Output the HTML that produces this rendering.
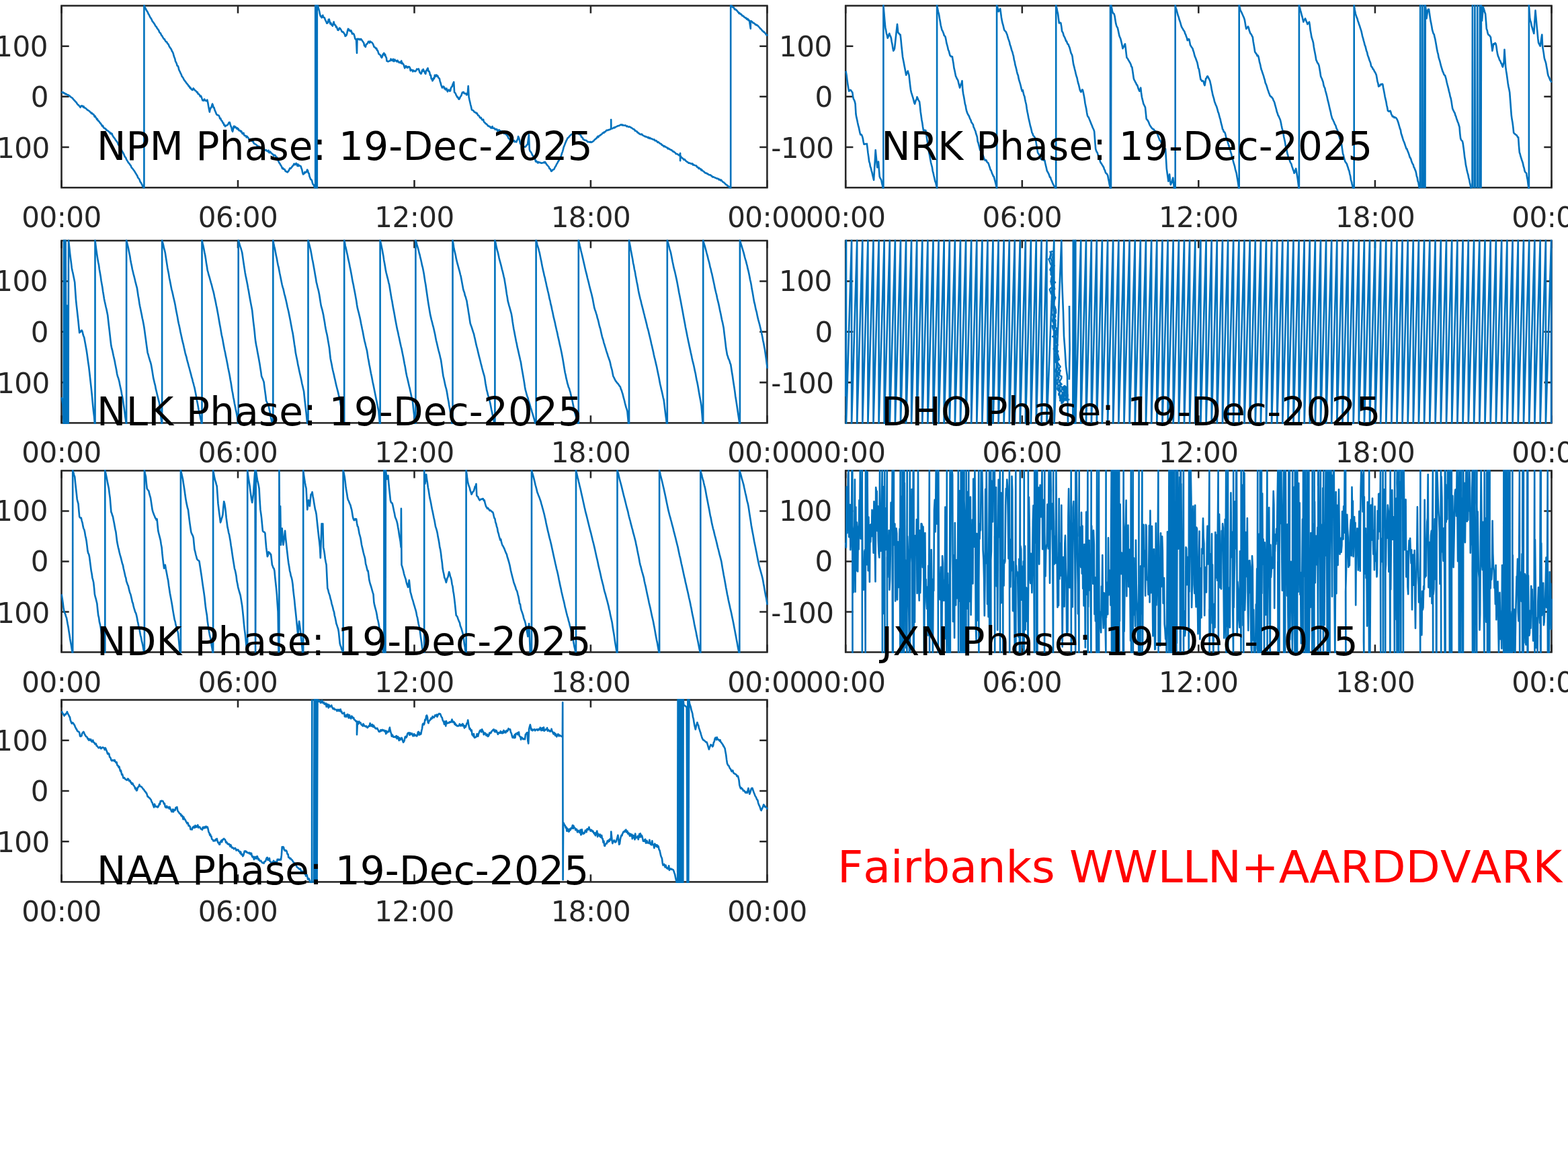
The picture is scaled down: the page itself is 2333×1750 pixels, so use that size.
<!DOCTYPE html>
<html><head><meta charset="utf-8"><title>Fairbanks WWLLN+AARDDVARK VLF Phase</title>
<style>html,body{margin:0;padding:0;background:#fff;overflow:hidden}svg{display:block}text{font-kerning:none;font-feature-settings:"kern" 0}</style>
</head><body>
<svg xmlns="http://www.w3.org/2000/svg" width="2333" height="1750" viewBox="0 0 2333 1750">
<rect width="2333" height="1750" fill="#fff"/>
<rect x="91.5" y="8.5" width="1049.9" height="270.7" fill="none" stroke="#262626" stroke-width="2.55"/><path d="M91.5 279.2v-11.2M91.5 8.5v11.2M354 279.2v-11.2M354 8.5v11.2M616.5 279.2v-11.2M616.5 8.5v11.2M878.9 279.2v-11.2M878.9 8.5v11.2M1141.4 279.2v-11.2M1141.4 8.5v11.2M91.5 219h11.2M1141.4 219h-11.2M91.5 143.8h11.2M1141.4 143.8h-11.2M91.5 68.7h11.2M1141.4 68.7h-11.2" stroke="#262626" stroke-width="2.55" fill="none"/>
<rect x="1258.2" y="8.5" width="1050.3" height="270.7" fill="none" stroke="#262626" stroke-width="2.55"/><path d="M1258.2 279.2v-11.2M1258.2 8.5v11.2M1520.8 279.2v-11.2M1520.8 8.5v11.2M1783.3 279.2v-11.2M1783.3 8.5v11.2M2045.9 279.2v-11.2M2045.9 8.5v11.2M2308.5 279.2v-11.2M2308.5 8.5v11.2M1258.2 219h11.2M2308.5 219h-11.2M1258.2 143.8h11.2M2308.5 143.8h-11.2M1258.2 68.7h11.2M2308.5 68.7h-11.2" stroke="#262626" stroke-width="2.55" fill="none"/>
<rect x="91.5" y="358.1" width="1049.9" height="271.3" fill="none" stroke="#262626" stroke-width="2.55"/><path d="M91.5 629.4v-11.2M91.5 358.1v11.2M354 629.4v-11.2M354 358.1v11.2M616.5 629.4v-11.2M616.5 358.1v11.2M878.9 629.4v-11.2M878.9 358.1v11.2M1141.4 629.4v-11.2M1141.4 358.1v11.2M91.5 569.1h11.2M1141.4 569.1h-11.2M91.5 493.8h11.2M1141.4 493.8h-11.2M91.5 418.4h11.2M1141.4 418.4h-11.2" stroke="#262626" stroke-width="2.55" fill="none"/>
<rect x="1258.2" y="358.1" width="1050.3" height="271.3" fill="none" stroke="#262626" stroke-width="2.55"/><path d="M1258.2 629.4v-11.2M1258.2 358.1v11.2M1520.8 629.4v-11.2M1520.8 358.1v11.2M1783.3 629.4v-11.2M1783.3 358.1v11.2M2045.9 629.4v-11.2M2045.9 358.1v11.2M2308.5 629.4v-11.2M2308.5 358.1v11.2M1258.2 569.1h11.2M2308.5 569.1h-11.2M1258.2 493.8h11.2M2308.5 493.8h-11.2M1258.2 418.4h11.2M2308.5 418.4h-11.2" stroke="#262626" stroke-width="2.55" fill="none"/>
<rect x="91.5" y="700.4" width="1049.9" height="270.1" fill="none" stroke="#262626" stroke-width="2.55"/><path d="M91.5 970.5v-11.2M91.5 700.4v11.2M354 970.5v-11.2M354 700.4v11.2M616.5 970.5v-11.2M616.5 700.4v11.2M878.9 970.5v-11.2M878.9 700.4v11.2M1141.4 970.5v-11.2M1141.4 700.4v11.2M91.5 910.5h11.2M1141.4 910.5h-11.2M91.5 835.5h11.2M1141.4 835.5h-11.2M91.5 760.4h11.2M1141.4 760.4h-11.2" stroke="#262626" stroke-width="2.55" fill="none"/>
<rect x="1258.2" y="700.4" width="1050.3" height="270.1" fill="none" stroke="#262626" stroke-width="2.55"/><path d="M1258.2 970.5v-11.2M1258.2 700.4v11.2M1520.8 970.5v-11.2M1520.8 700.4v11.2M1783.3 970.5v-11.2M1783.3 700.4v11.2M2045.9 970.5v-11.2M2045.9 700.4v11.2M2308.5 970.5v-11.2M2308.5 700.4v11.2M1258.2 910.5h11.2M2308.5 910.5h-11.2M1258.2 835.5h11.2M2308.5 835.5h-11.2M1258.2 760.4h11.2M2308.5 760.4h-11.2" stroke="#262626" stroke-width="2.55" fill="none"/>
<rect x="91.5" y="1041.5" width="1049.9" height="270.9" fill="none" stroke="#262626" stroke-width="2.55"/><path d="M91.5 1312.4v-11.2M91.5 1041.5v11.2M354 1312.4v-11.2M354 1041.5v11.2M616.5 1312.4v-11.2M616.5 1041.5v11.2M878.9 1312.4v-11.2M878.9 1041.5v11.2M1141.4 1312.4v-11.2M1141.4 1041.5v11.2M91.5 1252.2h11.2M1141.4 1252.2h-11.2M91.5 1177h11.2M1141.4 1177h-11.2M91.5 1101.7h11.2M1141.4 1101.7h-11.2" stroke="#262626" stroke-width="2.55" fill="none"/>
<defs>
<clipPath id="cNPM"><rect x="90" y="7" width="1052.9" height="273.7"/></clipPath>
<clipPath id="cNRK"><rect x="1256.7" y="7" width="1053.3" height="273.7"/></clipPath>
<clipPath id="cNLK"><rect x="90" y="356.6" width="1052.9" height="274.3"/></clipPath>
<clipPath id="cDHO"><rect x="1256.7" y="356.6" width="1053.3" height="274.3"/></clipPath>
<clipPath id="cNDK"><rect x="90" y="698.9" width="1052.9" height="273.1"/></clipPath>
<clipPath id="cJXN"><rect x="1256.7" y="698.9" width="1053.3" height="273.1"/></clipPath>
<clipPath id="cNAA"><rect x="90" y="1040" width="1052.9" height="273.9"/></clipPath>
</defs>
<polyline clip-path="url(#cNPM)" points="91.5,136.6 92.3,137 93.1,137.9 94,137.4 94.8,138.6 95.6,138.4 96.4,138.8 97.3,140.2 98.1,139.8 98.9,140.1 99.7,140.9 100.6,141.4 101.4,141.3 102.2,141.7 103.1,142.7 103.9,142.8 104.8,143.9 105.6,144.6 106.5,145 107.4,145.7 108.2,146.4 109.1,147.8 109.9,148.6 110.8,149.5 111.7,150.4 112.5,151.6 113.4,152 114.2,153.6 115.1,154.8 116,156 116.8,156.3 117.7,157.6 118.5,157.9 119.4,159.8 120.2,158.9 121.1,157.4 121.9,157.7 122.8,157.6 123.6,159.3 124.5,158.3 125.4,160.2 126.3,160.6 127.1,160.8 128,161.5 128.8,162.4 129.6,163.1 130.4,164 131.2,164.1 132,164.7 132.8,165.3 133.6,165.9 134.4,167 135.2,167.3 136,168.8 136.8,168.2 137.6,169.2 138.4,170 139.2,170.2 140,171.8 140.8,173.7 141.6,172.7 142.4,174.7 143.2,175.6 144,177.6 144.8,177 145.6,179.4 146.4,179.6 147.3,180.8 148.1,181.6 148.9,183.2 149.7,183.4 150.5,184.9 151.3,186.1 152.1,187.8 152.9,186.9 153.7,189 154.5,190.4 155.3,190.8 156.1,190.8 156.9,191.9 157.7,192.2 158.5,193.9 159.3,193.9 160.1,194.4 160.9,195.1 161.7,195.8 162.5,196.5 163.3,196.8 164.1,198.9 164.9,197.8 165.7,199.3 166.6,198.9 167.4,201.6 168.3,202.8 169.1,204.3 170,205.2 170.9,206.4 171.7,207.8 172.6,209.3 173.4,209.9 174.3,211.3 175.1,212.6 175.9,215.2 176.7,216.1 177.5,216.9 178.3,219.9 179.1,220.7 179.9,221.6 180.7,222.9 181.6,225 182.4,226 183.2,227.5 184,228.9 184.8,230.7 185.6,233 186.4,233.8 187.2,234.8 188,237 188.8,238.5 189.6,239.5 190.4,241 191.2,242.4 192.1,243 192.9,244.2 193.7,245.5 194.5,246.2 195.3,248.3 196.1,249.8 196.9,250.5 197.7,251.5 198.6,252.7 199.4,253.7 200.2,254.9 201,256.3 201.8,257.7 202.6,258.8 203.4,260.4 204.2,261.4 205,263.7 205.8,265 206.6,265.9 207.4,266.8 208.2,269.3 209,271.3 209.8,271.9 210.6,273.5 211.4,274.9 212.2,276.9 213,277.6 213.8,279.5 214.4,279.5 214.4,8.3 214.7,8.6 215.6,10.8 216.4,11.9 217.3,14.2 218.1,15.5 219,17.1 219.8,18.1 220.7,20.6 221.6,21.8 222.4,23.5 223.3,25.4 224.1,26.7 225,27.8 225.9,29.8 226.7,31.6 227.6,32.6 228.5,33.8 229.3,35 230.2,36.3 231.1,38.2 231.9,39.3 232.8,39.9 233.6,41.8 234.5,42.9 235.3,44 236.2,45.3 237.1,47.7 237.9,48.8 238.8,49.4 239.6,51.2 240.4,52.8 241.3,53.6 242.2,55.3 243,56.7 243.9,58.1 244.7,58 245.6,60.1 246.4,61.4 247.3,62.3 248.2,62.5 249,64.4 249.9,65.3 250.8,66.4 251.6,68.6 252.5,70.1 253.4,71.4 254.2,72.4 255.1,74 255.9,76.2 256.8,77.3 257.7,79.4 258.5,82.7 259.4,85.3 260.3,87.5 261.1,91.4 262,92.8 262.9,94.9 263.7,98 264.6,98 265.4,99.9 266.2,103.6 267.1,105.5 267.9,107.1 268.8,109.3 269.6,110.4 270.5,113.4 271.4,114.4 272.2,115.5 273.1,117.2 273.9,119 274.8,119.9 275.7,121.3 276.5,122.1 277.4,123.7 278.3,124.5 279.1,125.8 280,126.6 280.8,128.5 281.7,128.4 282.6,130.8 283.4,130.4 284.3,132.5 285.1,132.6 286,134 286.9,133.5 287.7,131.4 288.6,132.5 289.4,133.6 290.3,134.8 291.2,135.1 292,135.9 292.9,137.4 293.8,137.2 294.6,139.7 295.4,139.6 296.3,140.6 297.1,141.7 298,143.6 298.8,142.6 299.7,144.3 300.6,147.1 301.5,149.5 302.4,149 303.2,149.8 304.1,147.5 304.9,148.7 305.8,149.7 306.6,150.2 307.4,150.1 308.3,148.6 309.2,152.3 310.1,157.6 310.9,162 311.8,166.6 312.6,163 313.5,160.5 314.3,160.1 315.2,157.2 316,154.6 316.9,156.7 317.7,160.1 318.6,160.3 319.5,163.9 320.4,165.7 321.2,167.8 322.1,170.1 323,171 323.8,171.1 324.6,171.6 325.5,171.8 326.4,173.5 327.2,176.5 328.1,176 329,178.6 329.8,179.8 330.7,180.4 331.5,182.9 332.4,182.9 333.3,186.2 334.1,185.9 335,188.1 335.9,186.9 336.7,186.9 337.6,186.6 338.4,185.9 339.2,185.2 340.1,183.4 340.9,182 341.8,182.1 342.7,185.3 343.5,187.9 344.4,189.5 345.2,193.9 346.1,195.8 347,192.1 347.8,188.1 348.7,187.8 349.5,189.7 350.4,188.7 351.2,189.7 352.1,191.5 353,190.3 353.8,192.3 354.7,191.7 355.5,194.2 356.4,194.1 357.3,194.2 358.1,195.8 359,195.1 359.8,196.9 360.7,198.9 361.6,199.2 362.4,197.9 363.3,201.2 364.1,201.9 365,201.9 365.9,202.2 366.8,204.4 367.7,202.8 368.6,204.4 369.4,205 370.2,206.8 371,207.7 371.8,208.4 372.6,207 373.4,207.1 374.2,209.7 375,208.8 375.9,210.7 376.7,210.4 377.5,213.2 378.3,213.7 379.1,214.2 379.9,214.4 380.7,215.1 381.5,215.5 382.3,216.5 383.1,217.3 383.9,217.6 384.7,218.3 385.5,217.9 386.3,220.5 387.1,219.5 387.9,220.9 388.8,221.3 389.6,219.8 390.4,219.5 391.2,222.6 392,221.6 392.8,222.5 393.6,222.6 394.4,223.3 395.3,223.9 396.1,223.1 397,224.5 397.8,224.6 398.7,225.5 399.5,223.8 400.4,227.1 401.3,227.1 402.1,225.6 403,227 403.8,228.1 404.7,228.5 405.6,229.7 406.4,229.8 407.2,231.7 408.1,231.1 408.9,230.8 409.8,231.7 410.6,233.6 411.5,233.6 412.4,234.8 413.2,237.8 414.1,239.7 414.9,241 415.8,243.1 416.7,243.8 417.5,245.6 418.4,246.8 419.2,248.5 420.1,250.8 421,250 421.8,251.6 422.7,251.8 423.6,252.1 424.4,254.2 425.3,255.1 426.1,255 427,256 427.9,256.4 428.7,255.1 429.6,254.3 430.5,252 431.3,250.3 432.2,250.8 433.1,250.2 433.9,248.8 434.8,248 435.6,246.6 436.4,246.2 437.3,243.9 438.2,243.9 439,245.1 439.9,244 440.7,243 441.6,245 442.5,247 443.3,244.4 444.2,247.1 445,245.9 445.9,246.5 446.7,247.1 447.6,247.4 448.5,250.6 449.3,252.5 450.1,256.5 451,259.4 451.9,258.8 452.7,258.2 453.6,255.8 454.5,256.9 455.4,256.2 456.2,255.7 457.1,252.5 458,253.7 458.8,257.5 459.7,258.1 460.5,262.5 461.4,264.6 462.3,267 463.2,267.3 464.1,268.8 464.9,272.2 465.8,274.5 466.7,275.1 467.6,277.4 468.5,279.5 469.2,279.5 469.2,8.3 470.4,8.3 471.5,8.3 471.5,279.5 471.8,279.5 471.8,8.5 473,8.5 474.2,13.7 475.1,16.4 475.9,20.7 476.8,24 477.7,24.5 478.5,26.3 479.4,23.6 480.3,22.7 481.1,26 482,25.8 482.9,26.6 483.7,29 484.6,30.9 485.4,32.2 486.2,34.6 487.1,34.4 488,33.3 488.8,29.2 489.7,28.7 490.5,31.8 491.4,35.5 492.3,34.2 493.2,37 494,37.3 494.9,38.7 495.8,35.2 496.6,32.6 497.5,36.1 498.3,37.2 499.2,37.5 500,40.5 500.9,39.8 501.7,42.2 502.6,44.7 503.5,45 504.3,43.4 505.1,41.6 506,42.1 506.9,43.7 507.7,44.7 508.6,46.9 509.4,47.6 510.3,47.4 511.2,48.3 512,49.8 512.9,50.8 513.7,53.8 514.6,53.3 515.5,52.4 516.3,49.6 517.1,45.9 518,42.9 518.9,43.5 519.7,45.6 520.6,45.1 521.5,46.6 522.3,45.4 523.2,47.6 524,50.5 524.9,49.8 525.8,50.1 526.6,51 527.5,53.9 528.3,57.4 529.1,58.6 530,58.4 531,79 531.5,58 532.3,57.8 533.1,57.9 533.9,58.6 534.7,57.9 535.5,59.2 536.3,59.1 537.1,58 537.9,59.2 538.7,60.1 539.6,61.5 540.4,62.6 541.3,64 542.1,68 543,68.7 543.9,69.8 544.7,66.4 545.6,65.3 546.4,65.3 547.3,63.5 548.1,61.9 549,61.8 549.9,63.8 550.7,61.5 551.5,62.3 552.4,62.8 553.2,63 554.1,64.4 555,65.4 555.8,67.6 556.7,69.9 557.6,70.3 558.4,70.9 559.3,72.2 560.2,71.9 561,74.9 561.9,75.1 562.7,77.6 563.6,80.3 564.5,80.7 565.3,81.5 566.2,82.2 567,84.5 567.9,85.9 568.8,84.3 569.6,81.2 570.4,80.1 571.3,79 572.2,82.1 573,80.8 573.9,84.4 574.8,85.5 575.6,91 576.5,91 577.4,91.6 578.2,91.2 579,90.9 579.9,90.5 580.8,90.3 581.6,87.7 582.4,89.8 583.3,89.3 584.1,90.3 584.9,87.9 585.7,91.1 586.6,91.1 587.4,88.5 588.2,90 589,90.5 589.8,90.4 590.6,91.8 591.5,89.9 592.3,91.5 593.1,92.3 593.9,93.2 594.7,92.5 595.5,92.4 596.4,93.8 597.2,90.6 598,94.6 598.8,93.6 599.6,95.1 600.5,95.9 601.4,98.9 602.2,101.4 603.1,98.7 603.9,98.1 604.8,100.1 605.7,99.2 606.5,100.9 607.4,99.6 608.3,99.3 609.1,99.6 610,100.9 610.8,105.3 611.7,103.9 612.6,104 613.4,104.4 614.3,106.5 615.1,104.6 616,105.4 616.9,105.8 617.7,106.3 618.5,105.9 619.4,104.3 620.2,102.7 621.1,103.1 622,103.1 622.8,102.4 623.7,105.2 624.6,108.2 625.4,108.3 626.3,109.9 627.1,108.7 628,104.7 628.9,106 629.7,103.1 630.6,105.2 631.5,106.6 632.3,108.7 633.2,109.9 634.1,104.9 634.9,104.9 635.8,102.4 636.6,101.4 637.5,106.1 638.3,105.9 639.2,107.8 640,112 640.9,111.8 641.8,117.4 642.6,117 643.5,120.3 644.4,118.8 645.2,116.2 646,117.1 646.9,111.7 647.8,114 648.6,111.7 649.5,111.5 650.3,113.5 651.2,112.8 652.1,115.4 652.9,116.2 653.8,116.8 654.6,120.6 655.5,123.2 656.4,126.6 657.2,128.8 658,130.6 658.8,129.2 659.6,128.6 660.4,129 661.2,132 662,131.1 662.8,133.4 663.6,132.5 664.4,131.6 665.2,134.6 666,136.4 666.8,134.1 667.6,133.6 668.4,134.1 669.2,135.7 670.1,134.9 670.9,131 671.8,129.3 672.6,128.8 673.5,125.9 674.3,124.1 675.2,122 676.1,137.4 677,138 677.8,139.1 678.7,141.5 679.5,142.8 680.4,144.6 681.3,144.5 682.1,146.9 683,147.7 683.9,146.6 684.7,144.4 685.5,143.3 686.4,142.1 687.2,139.4 688.1,137.4 689,137.9 689.8,137 690.7,139.1 691.5,139 692.4,139.2 693.3,139 694.1,141.2 695,140.9 695.9,137.8 696.7,128 697.6,144.3 698.5,148.6 699.3,152 700.2,156 701,158.9 701.9,163.2 702.8,164 703.6,164 704.5,164.7 705.3,166.2 706.2,166.9 707.1,167.2 707.9,167.3 708.8,169 709.6,168.4 710.5,170.1 711.4,171.8 712.2,171.8 713.1,173.1 713.9,174.8 714.8,175.6 715.6,174.9 716.5,176.9 717.4,178.4 718.2,178.1 719.1,177.9 719.9,181 720.8,182.1 721.7,182.7 722.5,183.9 723.4,184.2 724.2,185 725.1,185.8 726,187.5 726.8,187.4 727.7,188.1 728.5,188 729.4,189 730.2,190.3 731,189.4 731.8,190.5 732.6,188.2 733.4,190.6 734.2,190.6 735,191 735.8,190.9 736.7,192.8 737.5,192.3 738.4,192.2 739.2,192.2 740.1,194.7 740.9,194 741.8,194.2 742.6,193.3 743.5,195.4 744.3,194.6 745.1,195.6 746,195.4 746.8,196 747.6,195.2 748.5,197.7 749.3,196.7 750.2,198.9 751,198.3 751.8,198.6 752.7,200 753.5,200.2 754.3,201.7 755.1,201.8 755.9,204.1 756.7,206 757.5,206.5 758.3,206.9 759.1,209.4 759.9,209.4 760.8,208.9 761.6,209.4 762.5,210.1 763.3,210.2 764.2,210.2 765,209.1 765.9,211.1 766.7,210.8 767.6,210.8 768.4,211.3 769.3,208.7 770.2,207.5 771.1,203 772,205.2 773,208.4 773.9,213.2 774.7,214.5 775.5,213.7 776.4,216.2 777.2,214.8 778,215.8 778.8,217.6 779.7,218.3 780.5,218.5 781.3,218.7 782.2,218.2 783.1,216.7 784.1,215.5 785,215 786,207.4 786.9,200.2 787.8,222.4 788.6,224.9 789.4,225.8 790.2,226.6 791,228.3 791.9,230.1 792.7,231.9 793.5,232.1 794.3,233.6 795.2,235 796.2,236.9 797.1,240.4 798.1,239.7 799,241 799.9,242.4 800.8,240.9 801.7,242.1 802.7,241.5 803.6,241.9 804.5,242.3 805.4,242.8 806.2,242.5 807,242.4 807.8,242.2 808.6,241.9 809.4,241.3 810.2,242.3 811,241 811.8,242.2 812.6,243.4 813.4,245 814.2,245.6 815,246.5 815.8,247.5 816.6,248.4 817.5,250.8 818.5,251.2 819.4,252.9 820.3,254.9 821.2,254.3 822.1,252.7 823.1,252.5 824,252.1 824.8,251.1 825.6,249 826.5,247.8 827.3,246.6 828.1,244.4 828.9,243.5 829.8,241.7 830.6,240.1 831.4,239.1 832.3,237.1 833.2,235.4 834.2,233.4 835.1,231.7 836,228.2 837,225.6 837.9,222.4 838.8,218.7 839.6,217.1 840.4,214.9 841.2,212.7 842,210.9 842.8,209 843.6,207.6 844.4,205.7 845.3,205.1 846.2,204.2 847.1,202.9 848.1,201.9 849,201.2 849.9,200.2 850.7,199.8 851.5,199.6 852.4,199.6 853.2,198.3 854,199 854.8,196.9 855.7,196.6 856.5,196.3 857.3,196.5 858.1,196.6 858.9,197.5 859.7,198.9 860.5,198.3 861.3,199.6 862.1,199.5 862.9,200.2 863.7,201.3 864.5,201.9 865.3,204.3 866.1,204.4 866.9,205.2 867.7,207.4 868.5,207.6 869.3,208.1 870.1,208.6 871,208.8 871.8,208.9 872.6,209.1 873.4,210 874.3,211.1 875.1,211.1 875.9,211.3 876.8,211.2 877.7,211.7 878.6,210.9 879.6,211.8 880.5,211.3 881.4,211.3 882.2,210.2 883,210 883.8,209.1 884.6,208 885.4,207.4 886.2,206.9 887,205.7 887.8,205.6 888.6,204.1 889.5,202.8 890.3,204.1 891.1,202.5 891.9,201.9 892.8,201.6 893.6,200.6 894.4,200.2 895.2,200 896,198.5 896.9,198.3 897.7,197.2 898.5,197.7 899.3,196.4 900.2,196.3 901,195.8 901.8,194.6 902.6,193.8 903.4,193.9 904.3,194 905.1,193.4 905.9,193 906.7,193.1 907.6,192.8 908.4,191.9 909.2,191.8 909.2,178 909.4,191.8 910.2,191.4 911,191.3 911.9,190.8 912.7,190.4 913.5,189.6 914.3,190.4 915.1,189.2 915.9,189.1 916.8,188.6 917.6,188.3 918.4,187.9 919.2,187.2 920,187.3 920.8,187.3 921.6,186.6 922.5,186.4 923.3,185.9 924.1,185.4 924.9,185.6 925.7,186.5 926.6,185.7 927.4,186.4 928.2,186.8 929,186.7 929.9,186.4 930.7,186.6 931.5,187.2 932.3,188.2 933.2,187.5 934,188.2 934.8,188.8 935.7,188.9 936.5,188.5 937.4,188.8 938.2,189.8 939,189.9 939.9,190.5 940.7,190.9 941.5,191.6 942.4,192.3 943.2,192.4 944.1,192.9 944.9,194.6 945.8,194.7 946.6,195.1 947.5,195.5 948.3,197.2 949.2,197.1 950,198.3 950.8,198.3 951.6,199.4 952.5,199.7 953.3,200.2 954.1,199.9 954.9,199.6 955.8,200.8 956.6,201.5 957.4,202 958.2,202.1 959,203 959.8,203.1 960.6,202.9 961.4,203.8 962.3,203.9 963.1,204.1 963.9,205 964.7,204.2 965.5,205.6 966.3,206 967.1,205 967.9,206.1 968.7,206.4 969.5,206.4 970.3,206.9 971.1,207.1 972,207.8 972.8,207.9 973.6,207.6 974.4,209.2 975.2,209.4 976,209.4 976.9,209.6 977.7,210.9 978.6,211.9 979.4,211.1 980.3,212.1 981.1,212.7 982,213.7 982.8,213.9 983.7,214 984.5,215.7 985.4,215.6 986.2,216.6 987.1,216.9 987.9,218.2 988.7,217.4 989.6,218 990.4,218.9 991.2,218.9 992,219.6 992.9,219.8 993.7,221.3 994.5,220.6 995.4,221.5 996.3,222 997.2,222.5 998.2,223.2 999.1,223 1000,224.3 1000.8,224.7 1001.6,225.7 1002.4,225.4 1003.2,226.4 1004,226.9 1004.8,227.3 1005.6,229 1006.4,228.8 1007.2,229.2 1008,229.3 1008.8,230.1 1009.6,230.5 1010.4,231.1 1011.2,231.7 1012.1,228 1012.1,239.1 1012.3,232 1013.1,232.8 1014,234.5 1014.8,234.8 1015.6,235.7 1016.5,236.3 1017.3,237.6 1018.1,237 1019,237.5 1019.8,238.8 1020.6,239.6 1021.5,240.3 1022.3,241 1023.1,241.1 1023.9,242 1024.7,242.7 1025.5,242.5 1026.4,242.6 1027.2,243.5 1028,243.3 1028.8,243.6 1029.6,244.2 1030.4,243.5 1031.2,245.5 1032,245.1 1032.9,245.7 1033.7,245.9 1034.5,246.3 1035.3,246.5 1036.1,246.6 1036.9,248.4 1037.8,248.6 1038.6,249.1 1039.4,250.8 1040.2,249.7 1041.1,251.1 1041.9,251.4 1042.7,251.5 1043.5,253.4 1044.3,252.7 1045.2,254 1046,254.5 1046.8,255.2 1047.6,255.4 1048.5,256.9 1049.3,257.1 1050.1,257.6 1051,257.5 1051.8,258 1052.7,259 1053.5,258.9 1054.4,259.9 1055.2,260.3 1056.1,260.4 1056.9,260.3 1057.8,261 1058.6,262.1 1059.5,262.1 1060.3,263.5 1061.2,263.2 1062,263.4 1062.9,264 1063.7,264.5 1064.6,264.6 1065.4,265 1066.3,265.6 1067.1,265.5 1068,266 1068.8,266.1 1069.7,267.4 1070.5,266.9 1071.3,267.6 1072.1,268.5 1073,267.6 1073.8,269.2 1074.6,269.6 1075.4,270.7 1076.3,271.1 1077.1,271.5 1077.9,272.5 1078.8,273.1 1079.6,274.2 1080.5,275 1081.4,275.1 1082.2,276.4 1083.1,276.5 1084,277.6 1084.9,277.8 1085.7,279.2 1086.6,279.5 1087.2,279.5 1087.2,8.3 1088.1,8.3 1088.9,10 1089.7,9.7 1090.6,11.1 1091.4,10.8 1092.2,11.9 1093,14 1093.8,13.6 1094.6,14.6 1095.5,14.5 1096.3,15.9 1097.1,16.4 1097.9,18 1098.7,18 1099.5,20 1100.4,19.3 1101.2,20.7 1102,21.3 1102.8,21.1 1103.6,22.3 1104.4,23.5 1105.2,23.6 1106.1,23.7 1106.9,25 1107.7,25.8 1108.5,26.1 1109.3,26.9 1110.1,26.5 1110.9,28.4 1111.8,28.6 1112.6,28 1113.4,30.2 1114.2,29.8 1115,30.6 1115.9,36.8 1116.8,42.6 1116.9,31.5 1117.8,31.3 1118.6,32.4 1119.5,32.5 1120.3,34.1 1121.2,34.3 1122,34.5 1122.9,35.3 1123.7,36.5 1124.6,36.3 1125.4,37.4 1126.3,37.3 1127.1,37.7 1128,38.9 1128.8,39.6 1129.6,40.5 1130.5,41.5 1131.3,42.7 1132.1,43 1132.9,43.9 1133.8,45.2 1134.6,45.9 1135.4,46.6 1136.2,47.6 1137.1,47.5 1137.9,49 1138.7,49.4 1139.5,50.8 1140.4,52.1 1141.2,52 1142,53.5" fill="none" stroke="#0072BD" stroke-width="2.62" stroke-linejoin="round" stroke-linecap="butt"/>
<polyline clip-path="url(#cNRK)" points="1258.5,105.7 1259.6,112.2 1260.6,120.3 1261.4,125.6 1262.3,131.2 1263.2,135.7 1264,134.8 1264.9,133.8 1265.7,134 1266.6,135.1 1267.5,136.6 1268.3,137.4 1269.2,144.3 1270,147.5 1270.9,148.7 1271.8,151.3 1272.6,154.6 1273.5,170.1 1274.3,174.4 1275.2,178.2 1276.1,182.8 1276.9,186.4 1277.8,189.6 1278.6,193.5 1279.5,197.6 1280.3,200.4 1281.2,200 1282.1,201 1282.9,202.7 1283.8,206 1284.6,210.8 1285.5,214.7 1286.4,214.7 1287.2,214.2 1288.1,214.2 1288.9,214.2 1289.8,213.9 1290.7,221 1291.5,227.9 1292.4,234 1293.2,240.5 1294.1,242.9 1294.9,247.8 1295.8,250 1296.7,254.1 1297.5,256.8 1298.4,261.1 1299.2,264.1 1300.1,268 1301,253.2 1301.8,240.2 1302.7,223.3 1303.5,231.9 1304.4,241 1305.3,249.1 1306.1,244 1307,240.5 1307.8,251.5 1308.7,262.8 1309.6,265 1310.4,266.2 1311.3,268 1312.1,272.2 1313,275.9 1313.8,279.8 1314.4,279.8 1314.4,7.9 1315.3,18.4 1316.3,30.5 1317.3,41.2 1318.1,44.6 1319,50.1 1319.9,52.5 1320.7,56.7 1321.6,54.8 1322.4,52.1 1323.3,49.8 1324.2,52.7 1325,54 1325.9,56.7 1326.7,62 1327.6,66.1 1328.4,71.6 1329.3,75.6 1330.2,74.2 1331,72.2 1331.9,64.5 1332.7,56.7 1333.9,45.9 1335,36.1 1336.2,48.1 1337,49.4 1337.9,50.1 1338.8,51.7 1339.6,51.5 1340.5,59.5 1341.3,68.2 1342.2,76.3 1343,84.2 1343.9,88.9 1344.8,93.5 1345.6,97.9 1346.5,102.6 1347.3,106.7 1348.2,111.7 1349.1,109.1 1349.9,107.4 1350.8,105.7 1351.6,109 1352.5,111.7 1353.4,120 1354.2,127.1 1355.1,134 1355.9,137.6 1356.8,140.4 1357.7,143.3 1358.5,145.9 1359.4,149.2 1360.2,152.7 1361.1,154.6 1361.9,151.8 1362.8,149 1363.7,148.1 1364.5,144.3 1365.4,146.2 1366.2,148.3 1367.1,150 1368,151.2 1368.8,157.4 1369.7,166.4 1370.5,171.8 1371.4,178.4 1372.3,183.1 1373.1,189 1374,194.1 1374.8,194.2 1375.7,193.6 1376.5,194.1 1377.4,194.1 1378.3,200.1 1379.1,206.2 1380,211.7 1380.8,217.1 1381.7,223.6 1382.6,228.5 1383.4,232.3 1384.3,237.5 1385.1,242 1386,245.5 1386.9,248.9 1387.7,254.3 1388.6,257.4 1389.5,261.7 1390.4,265.5 1391.3,269.8 1392.3,271.9 1393.2,276.2 1394.1,279.8 1394.1,7.9 1395.1,13.2 1396,17.6 1397,21.2 1398,27.5 1398.9,32.3 1399.7,37.5 1400.6,41 1401.5,44.7 1402.3,45.8 1403.2,47.9 1404,50 1404.9,53 1405.8,53.6 1406.6,55 1407.5,59.1 1408.3,63.9 1409.2,67 1410,70 1410.9,74.3 1411.8,75.9 1412.6,79.1 1413.5,82.5 1414.3,83.3 1415.2,84.2 1416.1,84.1 1416.9,84.2 1417.8,90.1 1418.6,94.5 1419.5,101.4 1420.4,104.9 1421.2,109 1422.1,113.4 1422.9,114.8 1423.8,117.2 1424.7,118.3 1425.5,120.3 1426.4,124.2 1427.2,127.2 1428.1,130.6 1428.9,127.8 1429.8,125.5 1430.7,123.1 1431.5,120.3 1432.4,134 1433.2,139.7 1434.1,144 1435,149.3 1435.8,154.6 1436.7,157.2 1437.5,162.4 1438.4,165.8 1439.3,168.4 1440.1,170 1441,171.5 1441.8,172.8 1442.7,175.3 1443.5,177.1 1444.4,178.7 1445.3,182 1446.1,182.8 1447,184.2 1447.8,185.2 1448.7,189.5 1449.6,190.7 1450.4,193.4 1451.3,194.9 1452.1,198.5 1453,201 1453.9,203.8 1454.7,210.5 1455.6,212.8 1456.4,216.2 1457.3,219.5 1458.2,223.3 1459,223.8 1459.9,226.7 1460.7,227.6 1461.6,230.6 1462.4,230.6 1463.3,233.1 1464.2,236.1 1465,237.1 1465.9,238.9 1466.7,238.1 1467.6,238.7 1468.5,241 1469.3,241.9 1470.2,242.2 1471,244.2 1471.9,247 1472.8,249.5 1473.6,252.5 1474.5,253.5 1475.3,255.6 1476.2,258.4 1477,259.8 1477.9,262.4 1478.8,262.8 1479.6,266.2 1480.5,269.5 1481.3,272.4 1482.2,276.3 1483.1,279.8 1483.1,7.9 1483.9,10.2 1484.8,13 1485.6,17.2 1486.5,16.2 1487.4,15.2 1488.2,12.9 1489.1,19.4 1489.9,25.7 1490.8,30.9 1491.6,34.5 1492.5,37.4 1493.4,41.3 1494.2,44.7 1495.1,45.7 1495.9,46.6 1496.8,47.5 1497.7,49.8 1498.5,51.5 1499.4,55 1500.2,57.6 1501.1,60.1 1502,62.7 1502.8,66.7 1503.7,68.8 1504.5,71.9 1505.4,75.2 1506.3,77.3 1507.1,80.5 1508,83.6 1508.8,88.9 1509.7,91.8 1510.5,96.7 1511.4,99.6 1512.3,103.3 1513.1,107.1 1514,110.4 1514.8,112.1 1515.7,117.2 1516.6,120.3 1517.4,122.9 1518.3,126 1519.1,129.3 1520,133.1 1520.9,135.7 1521.7,134 1522.6,138 1523.4,141.5 1524.3,143.3 1525.1,147.7 1526,152 1526.9,155.5 1527.7,161.4 1528.6,166.4 1529.4,170.2 1530.3,175.2 1531.2,179.1 1532,182.8 1532.9,187 1533.7,189.6 1534.6,193.3 1535.5,197.6 1536.3,198.5 1537.2,201.5 1538,202.5 1538.9,203.2 1539.8,204.9 1540.6,206.2 1541.5,211.4 1542.3,216.6 1543.2,221.5 1544,226.8 1544.9,228.3 1545.8,229.4 1546.6,231.5 1547.5,234.6 1548.3,235.7 1549.2,237.1 1550.1,237.4 1550.9,237.5 1551.8,238 1552.6,238.4 1553.5,238.1 1554.4,238.8 1555.2,242.8 1556.1,246.7 1556.9,249.9 1557.8,254.3 1558.6,255.5 1559.5,257.1 1560.4,258.8 1561.2,261.1 1562.1,263.7 1562.9,263.7 1563.8,267 1564.7,268.8 1565.5,270.8 1566.4,273.1 1567.2,274.5 1568.1,276.5 1569,277.2 1569.8,278.4 1570.7,279.8 1571.2,279.8 1571.2,7.9 1572.2,11.8 1573.1,16.3 1574.1,20.6 1575,28 1575.8,34.4 1576.7,34.1 1577.5,33.7 1578.4,34.4 1579.3,39.6 1580.1,46.4 1581,47.7 1581.8,49.6 1582.7,53.1 1583.6,54.6 1584.4,56.3 1585.3,58.4 1586.1,61 1587,61.5 1587.9,64 1588.7,65.8 1589.6,66.1 1590.4,68.7 1591.3,70.4 1592.1,73.3 1593,77 1593.9,79.8 1594.7,80.9 1595.6,84.2 1596.4,90.8 1597.3,96.2 1598.2,99.4 1599,102.8 1599.9,106.2 1600.7,109.9 1601.6,113.2 1602.5,115.7 1603.3,119.7 1604.2,123.7 1605,126 1605.9,130 1606.8,134 1607.6,135.7 1608.5,136.9 1609.3,134.7 1610.2,133.4 1611,134 1611.9,138 1612.8,142.6 1613.6,146.9 1614.5,153.5 1615.3,157.5 1616.2,161.6 1617.1,167.5 1617.9,171.8 1618.8,173.8 1619.6,174.3 1620.5,176.6 1621.4,178.7 1622.2,180.7 1623.1,183 1623.9,185.2 1624.8,187 1625.6,189.5 1626.5,191.2 1627.4,193.2 1628.2,195.8 1629.2,209.6 1630.2,221.6 1631,224 1631.9,226.2 1632.7,227.1 1633.6,230.2 1634.4,232.7 1635.3,235.8 1636.2,237.2 1637,240.5 1637.9,242.6 1638.7,243.1 1639.6,245 1640.5,246.2 1641.3,247.8 1642.2,249.1 1643,252 1643.9,253.2 1644.8,256.5 1645.6,257.7 1646.5,258.4 1647.3,259.4 1648.2,261.1 1649.1,266.1 1649.9,269.6 1650.8,274.9 1652,279.8 1652,7.9 1652.5,279.8 1653,279.8 1653.3,7.9 1654.2,12.3 1655.1,17.2 1655.9,18.9 1656.8,20.2 1657.6,20.6 1658.5,23.8 1659.4,29.5 1660.2,34.6 1661.1,37.8 1661.9,40.2 1662.8,41.2 1663.7,45.1 1664.5,48.9 1665.4,53.3 1666.2,55.4 1667.1,57.1 1667.9,60.1 1668.8,64 1669.7,68 1670.5,72.2 1671.4,70.3 1672.2,69.4 1673.1,66.9 1674,65.3 1674.8,71.3 1675.7,79.7 1676.5,85.9 1677.4,86.5 1678.3,88.2 1679.1,89.7 1680,91 1680.8,92.6 1681.7,93.9 1682.6,96.1 1683.4,99.2 1684.3,99.6 1685.1,105 1686,111 1686.8,116.8 1687.7,119.2 1688.6,120.7 1689.4,122.4 1690.3,123.7 1691.1,126.2 1692,126.5 1692.9,129.2 1693.7,131.8 1694.6,134 1695.4,135.7 1696.3,133.9 1697.2,130.6 1698,137.7 1698.9,144.3 1699.7,147.6 1700.6,151.2 1701.4,154.6 1702.3,156.2 1703.2,158.2 1704,159.8 1704.9,168.8 1705.7,176.9 1706.6,178 1707.5,179 1708.3,180.3 1709.2,182.1 1710,184.5 1710.9,186.3 1711.8,187.8 1712.6,189 1713.5,190.3 1714.3,191.2 1715.2,191.5 1716,192.8 1716.9,192.6 1717.8,194.1 1718.6,194.9 1719.5,195.4 1720.3,197.1 1721.2,197.6 1722.1,199.4 1722.9,201.8 1723.8,204.2 1724.6,206.2 1725.5,208.7 1726.4,209.1 1727.2,210.7 1728.1,213 1728.9,216.5 1729.8,218.4 1730.7,222.3 1731.5,225 1732.4,223.6 1733.2,222.7 1734.1,221.6 1734.9,235.1 1735.8,250.8 1736.7,257.5 1737.5,263.1 1738.4,269.7 1739.2,264 1740.1,259.4 1741,268.4 1741.8,274.9 1742.7,272.7 1743.5,271.8 1744.4,267.4 1745.3,264.6 1746.1,272 1747,279.8 1747.8,279.2 1748.7,279.8 1748.7,7.9 1749.5,12 1750.4,14.2 1751.3,17.7 1752.1,20.6 1753,23.8 1753.8,25.8 1754.7,29.3 1755.6,31.8 1756.4,34.2 1757.3,37.8 1758.1,40 1759,41.6 1759.9,43 1760.7,44.7 1761.6,45.8 1762.4,46.9 1763.3,50.1 1764.2,51.5 1765,54.3 1765.9,56.3 1766.7,60.1 1767.6,59.5 1768.4,58.1 1769.3,58.4 1770.2,62.7 1771,67 1771.9,68.4 1772.7,69.8 1773.6,71 1774.5,72.2 1775.3,75.3 1776.2,77.5 1777,80.9 1777.9,84.2 1778.8,86 1779.6,88.3 1780.5,90.8 1781.3,92.8 1782.2,97 1783,101.5 1783.9,102.8 1784.8,108.2 1785.6,113.6 1786.5,118.5 1787.3,118.8 1788.2,120.8 1789.1,120.4 1789.9,120.3 1790.8,121.6 1791.6,125.1 1792.5,127.1 1793.4,121.7 1794.2,116.8 1795.1,116.3 1795.9,113.9 1796.8,113.4 1797.7,115 1798.5,116.7 1799.4,118.5 1800.2,120.3 1801.1,124.2 1801.9,127.7 1802.8,133.4 1803.7,137.4 1804.5,141.5 1805.4,144.3 1806.2,147.1 1807.1,151.2 1808,153.4 1808.8,155.8 1809.7,157.5 1810.5,159.8 1811.4,162.8 1812.3,166.6 1813.1,168.1 1814,171.8 1814.8,174.9 1815.7,177.5 1816.5,181.7 1817.4,185.1 1818.3,188.4 1819.1,192.4 1820,193.3 1820.8,196.1 1821.7,196.2 1822.6,197.6 1823.4,200.4 1824.3,204.6 1825.1,206.1 1826,208 1826.9,212.1 1827.7,214.7 1828.6,217.2 1829.4,221.7 1830.3,223 1831.2,226.4 1832,228.8 1832.9,232.8 1833.7,235.2 1834.6,238.8 1835.4,241.9 1836.3,244.9 1837.2,247.9 1838,252 1838.9,255.1 1839.7,257.7 1840.6,263.3 1841.5,268.2 1842.3,273.6 1843.2,279.8 1843.7,279.8 1843.7,7.9 1844.7,11.2 1845.6,15.5 1846.6,17.2 1847.5,18.9 1848.3,20.7 1849.2,22.8 1850,24.5 1850.9,26.6 1851.8,29.2 1852.6,33.7 1853.5,39.2 1854.3,42.9 1855.2,41.8 1856.1,40.4 1856.9,39.5 1857.8,41.1 1858.6,44.8 1859.5,47.2 1860.4,49.8 1861.2,50.4 1862.1,51.7 1862.9,53.7 1863.8,55 1864.6,61.2 1865.5,66.5 1866.4,71.8 1867.2,77.3 1868.1,78.3 1868.9,79.8 1869.8,80.7 1870.7,83.2 1871.5,82.4 1872.4,84.2 1873.2,87.8 1874.1,92.7 1875,95.6 1875.8,99.6 1876.7,103.4 1877.5,105.3 1878.4,108.3 1879.3,110.9 1880.1,113.1 1881,116.8 1881.8,118.8 1882.7,123.3 1883.5,124.9 1884.4,127.1 1885.3,130.1 1886.1,132.9 1887,135.2 1887.8,138 1888.7,139.9 1889.6,142.6 1890.4,143 1891.3,144.3 1892.1,144.3 1893,145.8 1893.9,146.9 1894.7,149.3 1895.6,150.8 1896.4,152.9 1897.3,156.7 1898.1,159.3 1899,162.6 1899.9,166.6 1900.7,168.4 1901.6,171.6 1902.4,172.6 1903.3,174.8 1904.2,176.7 1905,178.7 1905.9,182.7 1906.7,187 1907.6,191.1 1908.5,194.1 1909.3,197.4 1910.2,203.5 1911,207 1911.9,211.1 1912.8,217 1913.6,219.9 1914.5,223.2 1915.3,227.9 1916.2,230.8 1917,233.6 1917.9,235.3 1918.8,238.5 1919.6,241 1920.5,242.7 1921.3,243.7 1922.2,247.4 1923.1,249.8 1923.9,252.4 1924.8,254.4 1925.6,257.7 1926.5,256.5 1927.4,253 1928.2,250.8 1929.1,255.7 1929.9,260.9 1930.8,266.3 1931.6,272.6 1932.5,279.8 1932.9,279.8 1932.9,7.9 1933.9,11.1 1934.9,15.3 1935.9,18.9 1936.8,22.5 1937.7,25.5 1938.5,29.2 1939.4,32.6 1940.2,30.1 1941.1,29.5 1942,27.5 1942.8,29.2 1943.7,31.9 1944.5,33.4 1945.4,36.1 1946.3,34.6 1947.1,33.9 1948,32.6 1948.8,37.5 1949.7,45.3 1950.5,49.4 1951.4,55 1952.3,57.8 1953.1,60.3 1954,63.6 1954.8,69.7 1955.7,74.7 1956.6,79.2 1957.4,83.4 1958.3,89.3 1959.1,90.7 1960,93.1 1960.9,94.2 1961.7,95.5 1962.6,97.9 1963.4,102.4 1964.3,107.8 1965.1,113.4 1966,115.5 1966.9,117.3 1967.7,119.8 1968.6,122 1969.4,126.8 1970.3,129.3 1971.2,130.8 1972,134.8 1972.9,137.8 1973.7,140.9 1974.6,144.5 1975.5,148.9 1976.3,151.8 1977.2,155.6 1978,159.3 1978.9,163.2 1979.8,166.6 1980.6,170.8 1981.5,174 1982.3,176.9 1983.2,177.9 1984,180.1 1984.9,181.6 1985.8,184.3 1986.6,185.7 1987.5,187.3 1988.3,190.4 1989.2,192.4 1990.1,193.8 1990.9,197.6 1991.8,200.7 1992.6,203.4 1993.5,206.5 1994.4,208.2 1995.2,211.9 1996.1,214.7 1997,221.2 1998,228.4 1998.9,231 1999.7,234.7 2000.6,237.7 2001.4,240.5 2002.3,241.6 2003.2,242.9 2004,244.1 2004.9,247.3 2005.7,249.3 2006.6,252.6 2007.4,254.2 2008.3,258.8 2009.2,262 2010,267.9 2010.9,270.4 2011.7,274.1 2012.6,277.8 2013.5,279.8 2014.7,279.8 2014.7,7.9 2015.8,15 2016.9,20.6 2017.8,23.4 2018.6,25.9 2019.5,27.7 2020.3,30.9 2021.2,33.2 2022,35.9 2022.9,38.2 2023.8,41.3 2024.6,43.6 2025.5,46.4 2026.3,50 2027.2,54.1 2028.1,57.1 2028.9,60.4 2029.8,63.4 2030.6,67 2031.5,68.9 2032.4,72.6 2033.2,75.9 2034.1,77.8 2034.9,82.1 2035.8,84.2 2036.6,86.5 2037.5,89.5 2038.4,91.7 2039.2,93.7 2040.1,98.3 2040.9,99.6 2041.8,100.2 2042.7,102.7 2043.5,103.2 2044.4,104.8 2045.2,106.7 2046.1,107.7 2047,109.7 2047.8,111.6 2048.7,116.5 2049.5,121.4 2050.4,124 2051.2,128.8 2052.1,128 2053,127.7 2053.8,125.9 2054.7,125.4 2055.5,125.8 2056.4,124.9 2057.3,125.4 2058.1,130.3 2059,134.8 2059.8,139.1 2060.7,144.1 2061.6,147.9 2062.4,151.3 2063.3,156.7 2064.1,159.9 2065,164.9 2065.8,165.3 2066.7,165.8 2067.6,165.2 2068.4,164.9 2069.3,166.7 2070.1,169.9 2071,171.4 2071.9,173.5 2072.7,173 2073.6,173.8 2074.4,175.2 2075.3,174.4 2076.2,175 2077,175.2 2077.9,176.7 2078.7,177.6 2079.6,180 2080.4,182.1 2081.3,185.4 2082.2,188.5 2083,191.4 2083.9,193.4 2084.7,198.5 2085.6,201 2086.5,204 2087.3,206.7 2088.2,209.5 2089,211 2089.9,213.5 2090.8,216.4 2091.6,218.6 2092.5,221.4 2093.3,221.4 2094.2,224.3 2095,226 2095.9,228.4 2096.8,231.1 2097.6,233.9 2098.5,235.1 2099.3,236.9 2100.2,239.9 2101.1,242.2 2101.9,244 2102.8,245.3 2103.6,248.7 2104.5,249.9 2105.4,252.6 2106.2,254.2 2107,257.1 2107.9,262.2 2108.7,264.3 2109.5,269.5 2110.4,271.4 2111.2,277 2112.1,279.8 2112.4,279.8" fill="none" stroke="#0072BD" stroke-width="2.62" stroke-linejoin="round" stroke-linecap="butt"/>
<polyline clip-path="url(#cNRK)" points="2112.8,279.8 2113.2,7.9 2113.6,279.8" fill="none" stroke="#0072BD" stroke-width="2.62" stroke-linejoin="round" stroke-linecap="butt"/>
<polyline clip-path="url(#cNRK)" points="2115.9,279.8 2116.3,7.9 2116.7,279.8" fill="none" stroke="#0072BD" stroke-width="2.62" stroke-linejoin="round" stroke-linecap="butt"/>
<polyline clip-path="url(#cNRK)" points="2119.2,279.8 2119.6,7.9 2120,279.8" fill="none" stroke="#0072BD" stroke-width="2.62" stroke-linejoin="round" stroke-linecap="butt"/>
<polyline clip-path="url(#cNRK)" points="2120.4,279.8 2120.8,7.9 2121.7,15.5 2122.5,27.5 2123.4,21.2 2124.2,15.5 2125.1,13.7 2126,13.7 2126.8,19.3 2127.7,25.4 2128.5,30.9 2129.4,34.9 2130.3,39.8 2131.1,44.7 2132,47.6 2132.8,50.1 2133.7,51.1 2134.6,55.4 2135.4,58.4 2136.3,63.4 2137.1,68 2138,73.2 2138.8,77.3 2139.7,80.3 2140.6,85.7 2141.4,88.1 2142.3,91 2143.1,94.3 2144,97.9 2144.9,100.9 2145.7,103.5 2146.6,106.5 2147.4,107.8 2148.3,110.5 2149.2,111.9 2150,112.2 2150.9,115.1 2151.7,117.9 2152.6,122.2 2153.4,125.5 2154.3,128.8 2155.2,132.4 2156,136.1 2156.9,139.2 2157.7,143.5 2158.6,146 2159.5,150.8 2160.3,156.1 2161.2,161.5 2162,163.4 2162.9,165.3 2163.8,167.1 2164.6,168.3 2165.5,171.8 2166.3,173.2 2167.2,176.8 2168,178.6 2168.9,181.5 2169.8,183.2 2170.6,186.3 2171.5,188.9 2172.3,198.8 2173.2,206.1 2174.1,208.3 2174.9,209.3 2175.8,209.8 2176.6,213 2177.5,219.4 2178.4,226.3 2179.2,233.6 2180.1,238.8 2180.9,245.3 2181.8,249.1 2182.6,253.4 2183.5,257 2184.4,260.1 2185.2,264.5 2186.1,267.6 2186.9,272 2187.8,275.7 2188.7,279.8 2189.3,279.8" fill="none" stroke="#0072BD" stroke-width="2.62" stroke-linejoin="round" stroke-linecap="butt"/>
<polyline clip-path="url(#cNRK)" points="2190.5,279.8 2190.9,7.9 2191.3,279.8" fill="none" stroke="#0072BD" stroke-width="2.62" stroke-linejoin="round" stroke-linecap="butt"/>
<polyline clip-path="url(#cNRK)" points="2194,279.8 2194.4,7.9 2194.8,279.8" fill="none" stroke="#0072BD" stroke-width="2.62" stroke-linejoin="round" stroke-linecap="butt"/>
<polyline clip-path="url(#cNRK)" points="2197.8,279.8 2198.2,7.9 2198.6,279.8" fill="none" stroke="#0072BD" stroke-width="2.62" stroke-linejoin="round" stroke-linecap="butt"/>
<polyline clip-path="url(#cNRK)" points="2201.5,279.8 2201.9,7.9 2202.3,279.8" fill="none" stroke="#0072BD" stroke-width="2.62" stroke-linejoin="round" stroke-linecap="butt"/>
<polyline clip-path="url(#cNRK)" points="2203.5,279.8 2203.9,7.9 2205,30.9 2205.8,22.4 2206.7,10.3 2207.5,12.6 2208.4,15.1 2209.3,18.7 2210.1,20.6 2211,31.8 2211.8,42.9 2212.7,45.1 2213.6,49.4 2214.4,51.5 2215.3,52.2 2216.1,52.4 2217,54.3 2217.9,55 2218.7,62.1 2219.6,68.5 2220.4,75.6 2221.3,70.8 2222.1,65.3 2223,65.8 2223.9,64.7 2224.7,64 2225.6,65.3 2226.4,69 2227.3,75.5 2228.2,80.7 2229,83.6 2229.9,85.5 2230.7,87.9 2231.6,90.2 2232.5,91.2 2233.3,94 2234.2,94.5 2235,97.9 2235.9,99.6 2236.7,96.4 2237.6,92.8 2238.5,73.9 2239.3,86.7 2240.2,99.6 2241,105.4 2241.9,111 2242.8,117.7 2243.6,123.7 2244.5,129 2245.3,132.6 2246.2,137.4 2247.1,149.2 2247.9,159.9 2248.8,171.8 2249.6,177.6 2250.5,182.6 2251.3,188.9 2252.2,197.5 2253.1,198.6 2253.9,199.1 2254.8,200.3 2255.6,200.6 2256.5,201.1 2257.4,202.5 2258.2,204.2 2259.1,204.4 2259.9,216.5 2260.8,226.7 2261.7,229.3 2262.5,232.7 2263.4,235.4 2264.2,238 2265.1,240.5 2265.9,243 2266.8,247.5 2267.7,250.2 2268.5,254.2 2269.4,256.1 2270.2,257 2271.1,257.6 2272,263.6 2272.8,267.2 2273.7,274.6 2274.5,279.8 2274.9,279.8 2274.9,7.9 2276.3,27.5 2277.1,31.3 2278,33.6 2278.8,38.4 2279.7,41.2 2280.5,44.1 2281.4,46.8 2282.3,49.8 2283.4,32.2 2284.5,15.5 2285.5,26.9 2286.6,39.5 2287.4,47.3 2288.3,57.4 2289.1,63.6 2290,65.4 2290.9,67.1 2291.7,68.7 2292.6,62.6 2293.4,56.9 2294.3,51.5 2295.1,68.7 2296,74.1 2296.9,79.6 2297.7,85.9 2298.6,89.3 2299.4,91.4 2300.3,94.5 2301.2,100.1 2302,104.1 2302.9,109.9 2303.7,112.8 2304.6,114.5 2305.5,116.8 2306.5,119.2 2307.5,120.7 2308.5,122.8" fill="none" stroke="#0072BD" stroke-width="2.62" stroke-linejoin="round" stroke-linecap="butt"/>
<polyline clip-path="url(#cNLK)" points="91.6,591.2 92.7,596.8 93.7,603.5 94.6,630 95,357.5 95.8,630 96.2,357.5 97.2,630 97.6,357.5 99,630 99.9,454.9 101.6,630 102,357.5 103.1,367.7 104.2,378 105.1,385.2 106,391.9 106.8,398.9 107.7,403.2 108.6,406.9 109.5,411.5 110.3,415.6 111.2,419.9 112.1,433.3 113,446.1 113.8,454.1 114.7,461.9 115.6,470.2 116.5,478.2 117.3,486.5 118.2,495.1 119.1,494.2 120,493.7 120.8,491.9 121.7,491.6 122.6,493.3 123.5,497.5 124.3,500 125.2,502.1 126.1,507.1 127,511.8 127.8,516.4 128.7,521.3 129.6,527.3 130.4,533.2 131.3,539.9 132.2,545.8 133.1,553.6 133.9,560.9 134.8,569.2 135.7,577.2 136.6,585.9 137.4,594.6 138.3,604.2 139.2,612.8 140.1,620.2 140.9,630 141.5,630 141.5,357.5 142.4,365.1 143.4,372.7 144.4,379.7 145.3,385.4 146.2,390.5 147.1,394.8 147.9,401 148.8,406 149.7,411.2 150.5,417.2 151.4,422.4 152.3,427.3 153.2,433.9 154,438.5 154.9,444.4 155.8,448.8 156.7,452.7 157.5,456.5 158.4,460 159.3,464.5 160.2,468.9 161,476.2 161.9,484 162.8,491.5 163.7,499.7 164.5,506.9 165.4,514.3 166.3,518.5 167.2,521.5 168,525.5 168.9,529.8 169.8,533.6 170.6,537 171.5,542.1 172.4,546.5 173.3,551.1 174.1,556.3 175,559.9 175.9,562.2 176.8,565.3 177.6,568.5 178.5,573.4 179.4,577.3 180.3,581.4 181.1,586.2 182,590.3 182.9,594.7 183.7,601 184.5,606.4 185.3,612.1 186.1,619 187,624.5 187.8,630 188.1,630 188.1,357.5 189,361.4 189.9,365.1 190.8,368.5 191.6,372.7 192.5,377.2 193.4,381.6 194.2,387 195.1,391.8 196,395.9 196.9,400.7 197.7,404 198.6,407.8 199.5,411.2 200.4,414.8 201.2,418.3 202.1,421.8 203,425.4 203.9,428.7 204.7,434 205.6,440.2 206.5,445.1 207.4,451.4 208.2,455.8 209.1,460 210,464.6 210.9,468.8 211.7,473.3 212.6,477 213.5,481.8 214.3,486.3 215.2,492.5 216.1,499.3 217,505.6 217.8,511.8 218.7,518.2 219.6,524.8 220.5,527.5 221.3,530.6 222.2,533.7 223.1,536.7 224,539.3 224.8,542.3 225.7,547.2 226.6,552.5 227.5,558.2 228.3,563.2 229.2,566.7 230.1,570.7 231,573.9 231.8,578.7 232.7,582.2 233.6,586 234.4,589.3 235.3,592.9 236.2,596.6 237.1,600 237.9,607.4 238.8,615 239.7,622.5 240.6,630 241.1,630 241.1,357.5 242,360.9 243,364.4 243.9,369 244.9,372.3 245.8,376.2 246.7,382.2 247.6,387.9 248.4,393.1 249.3,398.9 250.2,403.4 251.1,408.1 251.9,413.4 252.8,417.6 253.7,422.2 254.6,426.9 255.4,431 256.3,434.2 257.2,438.1 258,441.9 258.9,445.8 259.8,449.6 260.7,453.9 261.5,458.7 262.4,463.6 263.3,468 264.2,472.6 265,477.6 265.9,481.8 266.8,485.4 267.7,489.8 268.5,494.1 269.4,498 270.3,502.1 271.2,506.4 272,509.6 272.9,512.9 273.8,517.3 274.7,521.1 275.5,524.8 276.4,528.3 277.3,530.9 278.1,534.6 279,538.2 279.9,541.2 280.8,544.8 281.6,547.5 282.5,551 283.4,554.4 284.3,557.6 285.1,561.3 286,563.8 286.9,567.8 287.8,570.7 288.6,574 289.5,577.2 290.4,581.7 291.3,586.2 292.1,590.7 293,596 293.9,600.2 294.8,605.2 295.6,609.7 296.5,613.6 297.4,617.7 298.2,622.1 299.1,625.8 300,630 300.5,630 300.5,357.5 301.5,362.2 302.4,365.9 303.4,370.7 304.3,375.6 305.2,379.7 306.1,385.3 307,391.6 307.9,396.8 308.7,402.4 309.6,405.2 310.5,409 311.4,411.7 312.2,414.7 313.1,417.8 314,421.1 314.9,424 315.7,427.4 316.6,430.9 317.5,433.9 318.4,437.8 319.2,442 320.1,445.9 321,450.2 321.8,454.5 322.7,458.4 323.6,463.5 324.5,468.2 325.3,473 326.2,478.3 327.1,483.4 328,488.1 328.8,492.9 329.7,498.3 330.6,502.1 331.5,506.6 332.3,511.3 333.2,516.1 334.1,520.7 335,524.5 335.8,529.1 336.7,533 337.6,537.8 338.5,542.3 339.3,546.9 340.2,551.3 341.1,555.6 341.9,559.8 342.8,565.3 343.7,570 344.6,576 345.4,581.3 346.3,585.5 347.2,591.2 348.1,595.2 348.9,600.2 349.8,604.6 350.7,609.1 351.6,613.1 352.4,617.4 353.3,623.4 354.2,630 354.7,630 354.7,357.5 355.6,360.4 356.6,364.2 357.5,366.9 358.4,369.4 359.4,373 360.3,376.2 361.2,382.4 362,388.1 362.9,394.2 363.8,400.1 364.7,405.9 365.5,410.3 366.4,414.4 367.3,419.1 368.2,423.4 369,428.4 369.9,432.8 370.8,438.2 371.7,443.2 372.5,447.7 373.4,452.4 374.3,457.1 375.2,461.9 376,469.5 376.9,478.1 377.8,485.4 378.7,493.1 379.5,501.8 380.4,509.1 381.3,514 382.2,518.2 383,523.1 383.9,527.8 384.8,532.6 385.6,537 386.5,542.1 387.4,548.1 388.3,553.6 389.1,559.8 390,562 390.9,563.9 391.8,566.4 392.6,568.5 393.5,576.1 394.4,582.6 395.3,589.2 396.1,596.5 397,598.2 397.9,600.1 398.8,601.2 399.6,603.5 400.5,608.2 401.4,612.4 402.3,617 403.1,621.5 404,625.7 404.9,630 406.3,630 406.3,357.5 407.2,362.5 408.1,366.8 409.1,370.9 410,375.8 410.9,380.4 411.9,385 412.7,389.6 413.6,394.3 414.5,397.6 415.4,402.4 416.2,406.8 417.1,411 418,415.6 418.9,419.9 419.7,423.7 420.6,427.4 421.5,429.9 422.4,434 423.2,437.8 424.1,440.7 425,444.6 425.8,447.9 426.7,452.1 427.6,456.5 428.5,460.3 429.3,463.5 430.2,468 431.1,472.4 432,477 432.8,481.6 433.7,486.2 434.6,491.4 435.5,495.3 436.3,500.3 437.2,506.5 438.1,512.9 439,518.1 439.8,524.8 440.7,529.2 441.6,533.5 442.5,537.7 443.3,542.9 444.2,546.4 445.1,551 446,555.2 446.8,558.6 447.7,562.5 448.6,566.8 449.4,571 450.3,574.6 451.2,578.7 452.1,582.5 452.9,590.3 453.8,598.7 454.7,606.3 455.6,614.2 456.4,622.3 457.3,630 458.5,630 458.5,357.5 459.4,361 460.3,364.3 461.1,367.5 462,371 462.9,375.7 463.7,380.2 464.6,385.4 465.5,389.6 466.4,394.5 467.2,398.9 468.1,404 469,409.6 469.9,414.2 470.7,419.9 471.6,423.2 472.5,427.3 473.4,430.5 474.2,433.9 475.1,438.5 476,444.2 476.8,449.6 477.7,454.9 478.6,458.1 479.5,461.4 480.3,464.9 481.2,468.9 482.1,474.6 483,479.2 483.8,484.8 484.7,489.8 485.6,494.1 486.5,497.7 487.3,502.1 488.2,507.4 489.1,512.6 490,517.8 490.8,525.3 491.7,533.5 492.6,537.9 493.5,542.3 494.3,546.7 495.2,551 496.1,554.7 497,558.4 497.8,562.4 498.7,565.9 499.6,570.2 500.4,573.7 501.3,577.3 502.2,580.7 503.1,584.1 503.9,587.8 504.8,591.2 505.7,594.7 506.6,600.4 507.6,606.7 508.5,612.9 509.4,618.8 510.4,624.3 511.3,630 512.2,630 512.2,357.5 513,361.1 513.8,366 514.6,368.8 515.4,372.6 516.2,376.2 517.1,380 517.9,384.4 518.8,388.3 519.7,392.3 520.5,396.6 521.4,400.7 522.3,405.5 523.2,410.3 524,415.1 524.9,419.9 525.8,423.7 526.7,428.8 527.5,432.8 528.4,437.4 529.3,442.6 530.2,447.4 531,453.3 531.9,458.4 532.8,462 533.7,465.3 534.5,468.7 535.4,472.4 536.3,476.5 537.2,481.5 538,485.3 538.9,489.8 539.8,493.8 540.6,498.3 541.5,503 542.4,507.3 543.3,510.7 544.1,514.3 545,517.9 545.9,521.3 546.8,526.9 547.6,532.4 548.5,536.8 549.4,542.3 550.3,546.6 551.1,550.9 552,555.7 552.9,559.8 553.8,564.6 554.6,568.8 555.5,572.8 556.4,577.2 557.3,581.7 558.1,585.7 559,590.3 559.9,594.7 560.8,599.1 561.6,603.2 562.5,607.8 563.4,612.2 564.2,621.4 565.1,630 565.6,630 565.6,357.5 566.6,361.9 567.6,366.6 568.6,371 569.5,376.2 570.4,380.9 571.2,386.9 572.1,391.6 573,396.7 573.9,402.4 574.7,406 575.6,409.5 576.5,413.1 577.4,416.5 578.2,420.3 579.1,423.4 580,428.7 580.9,434.2 581.7,439.3 582.6,444.4 583.5,448.8 584.3,454.1 585.2,459 586.1,463.6 587,468.5 587.8,473.2 588.7,478 589.6,482.8 590.5,487.4 591.3,491.1 592.2,494.8 593.1,499.5 594,503.3 594.8,507.3 595.7,511.4 596.6,515.5 597.5,518.8 598.3,522.9 599.2,527.5 600.1,531.8 601,536.8 601.8,541.3 602.7,545.4 603.6,550.7 604.4,555.6 605.3,559.8 606.2,563.2 607.1,567.1 607.9,570.7 608.8,574.6 609.7,578.1 610.6,582.5 611.4,586.1 612.3,590.4 613.2,594.3 614.1,598.2 614.9,606.4 615.8,614.4 616.7,621.9 617.6,630 618.4,630 618.4,357.5 619.3,359.9 620.2,363.6 621.1,366.6 621.9,369.4 622.8,372.7 623.7,376.5 624.6,379.5 625.4,383.4 626.3,386.7 627.2,390.8 628,395 628.9,397.9 629.8,402.4 630.7,407.2 631.5,412.8 632.4,418.5 633.3,423.4 634.2,430 635,435.5 635.9,441.7 636.8,447.9 637.7,453.6 638.5,458.2 639.4,463.7 640.3,468.9 641.2,472.6 642,476.1 642.9,479.3 643.8,483.1 644.7,486.3 645.5,489.8 646.4,493.7 647.3,497.7 648.1,502.2 649,506.7 649.9,510.3 650.8,514.3 651.6,517.8 652.5,521.5 653.4,524.6 654.3,528.3 655.1,531.9 656,535.3 656.9,541.4 657.8,547.8 658.6,553.7 659.5,559.8 660.4,563.4 661.3,567.5 662.1,571.4 663,575.4 663.9,578.3 664.8,582.5 665.6,587.2 666.5,593.1 667.4,597.4 668.2,602.8 669.1,607.3 670,612.2 670.9,618 671.7,623.8 672.6,630 673.5,630 673.5,357.5 674.4,362.4 675.2,368 676.1,372.7 677,376.1 677.9,380.1 678.7,384.4 679.6,388.2 680.5,392 681.4,395 682.2,398.2 683.1,401.3 684,404.6 684.9,408.5 685.7,411.2 686.6,416.1 687.5,420.9 688.4,425.8 689.2,430.4 690.1,433.3 691,435.6 691.8,439.6 692.7,441.5 693.6,444.9 694.5,447.9 695.3,453.6 696.2,458.4 697.1,464.6 698,469.8 698.8,475.2 699.7,481.1 700.6,483.7 701.5,486.1 702.3,488.7 703.2,491.5 704.1,494.4 705,496.8 705.8,500.6 706.7,504.3 707.6,508.5 708.5,512.6 709.3,515.9 710.2,519 711.1,523 711.9,526.4 712.8,530.1 713.7,533.5 714.6,537 715.4,540.5 716.3,543.8 717.2,547.5 718.1,550.8 718.9,553.8 719.8,556.9 720.7,559.8 721.6,565.1 722.4,570.8 723.3,575.4 724.2,580.7 725.1,583.7 725.9,587.4 726.8,590.1 727.7,593.4 728.6,597 729.4,600 730.3,604.7 731.2,609.5 732,613 732.9,617.7 733.8,622.7 734.7,626 735.5,630 736.4,630 736.4,357.5 737.3,360.8 738.2,365.4 739,369.2 739.9,372.7 740.8,375.6 741.7,379.8 742.5,383.6 743.4,387.1 744.3,390.4 745.2,393.7 746,396.8 746.9,400.8 747.8,403.9 748.7,407.6 749.5,411.3 750.4,414.7 751.3,420.4 752.2,425.8 753,431 753.9,437.4 754.8,442.2 755.6,447.9 756.5,451.1 757.4,454.6 758.3,457.5 759.1,460.7 760,463.9 760.9,467.1 761.8,472.5 762.6,478.5 763.5,484.1 764.4,489.8 765.3,494.1 766.1,498.5 767,502.9 767.9,507.7 768.8,511.5 769.6,516.1 770.5,519.6 771.4,523.6 772.3,527.7 773.1,531.1 774,535.2 774.9,538.8 775.7,544 776.6,549.6 777.5,554.5 778.4,559.8 779.2,564.4 780.1,569.7 781,575.9 781.9,580.7 782.7,583.3 783.6,587 784.5,589.7 785.4,591.9 786.2,595.6 787.1,598.2 788,600.9 788.9,604.2 789.7,606.8 790.6,609.5 791.5,612.8 792.4,615.7 793.2,618.4 794.1,621.4 795,624.3 795.8,627.6 796.7,630 797.6,630 797.6,357.5 798.5,360.3 799.3,364.1 800.2,366.8 801.1,369.6 802,373.3 802.8,376.2 803.7,380.8 804.6,385.2 805.5,389.2 806.3,394.1 807.2,398.3 808.1,402.4 809,406.1 809.8,410.2 810.7,413.1 811.6,417.5 812.5,421.2 813.3,425.2 814.2,428.9 815.1,433 816,436.5 816.8,440.2 817.7,444.9 818.6,447.9 819.4,452.6 820.3,455.5 821.2,460.3 822.1,464.1 822.9,468 823.8,472.4 824.7,475.9 825.6,479.6 826.4,483.6 827.3,487.5 828.2,491.5 829.1,495.1 830,499.7 830.9,503.6 831.9,508 832.8,512.4 833.7,516.1 834.6,520.3 835.5,524.6 836.4,529.3 837.2,533.6 838.1,538.7 839,544.2 839.9,549.8 840.7,554.5 841.6,558 842.5,562.9 843.4,566.3 844.2,570.3 845.1,572.9 846,576.3 846.9,577.8 847.7,580.8 848.6,583.8 849.5,587.9 850.3,591.2 851.2,594.8 852.1,599 853,603.5 853.8,607.5 854.7,612.2 855.6,615.2 856.5,618.1 857.3,621 858.2,624.2 859.1,627.1 860,630 860.8,630 860.8,357.5 861.7,361.2 862.6,365.3 863.5,368.8 864.3,372.6 865.2,376.2 866.1,379.8 867,383.6 867.8,387.1 868.7,391.1 869.6,395 870.5,399 871.3,402.4 872.2,405.8 873.1,409.4 874,413.5 874.8,416.5 875.7,419.9 876.6,423.7 877.4,427.2 878.3,430.7 879.2,434.1 880.1,437.3 880.9,440.9 881.8,444.6 882.7,449.6 883.6,454.3 884.4,458.4 885.3,461.2 886.2,463.5 887.1,466.6 887.9,468.9 888.8,473 889.7,475.6 890.6,479.3 891.4,482.9 892.3,486.5 893.2,489.1 894.1,493.3 894.9,496.9 895.8,500.6 896.7,503.8 897.6,506.2 898.4,510.1 899.3,512.5 900.2,515.7 901,518.1 901.9,521.3 902.8,524.2 903.7,526.7 904.5,529.7 905.4,531.9 906.3,534.8 907.2,537.1 908,540.2 908.9,544.5 909.8,547.9 910.7,551 911.5,555.4 912.4,559.8 913.3,561.3 914.2,563.5 915,564.9 915.9,566.8 916.8,567.7 917.7,569.2 918.5,570.1 919.4,570.9 920.3,572.1 921.2,573.5 922,574.8 922.9,575.5 923.8,578.8 924.7,580.6 925.5,583.4 926.4,586 927.3,589.7 928.1,592.8 929,596 929.9,600 930.8,603.3 931.6,606.4 932.5,608.9 933.4,612.2 934.3,621.8 935.1,630 936,630 936,357.5 936.9,362.5 937.8,367 938.6,372 939.5,376.6 940.4,381.5 941.3,386.1 942.1,391.5 943,395 943.9,400.7 944.8,404.4 945.6,409.4 946.5,413.9 947.4,419.2 948.3,423.2 949.1,427.9 950,433 950.9,437.4 951.7,440.8 952.6,444.6 953.5,447.7 954.4,451.8 955.2,454.8 956.1,458.4 957,461.9 957.9,465.6 958.7,468.5 959.6,472.7 960.5,475.7 961.4,479.4 962.2,482.6 963.1,486.8 964,489.7 964.9,493 965.7,496.6 966.6,500.3 967.5,504 968.4,507.9 969.2,511.8 970.1,515.2 971,519.4 971.9,523.1 972.7,527.2 973.6,531.3 974.5,534.7 975.3,538.1 976.2,542.1 977.1,545.8 978,550.3 978.8,554.2 979.7,558.5 980.6,562.8 981.5,567.9 982.3,572 983.2,575.8 984.1,579.9 985,583.4 985.8,587.2 986.7,591.6 987.6,594.8 988.5,601.8 989.3,608.9 990.2,616 991.1,622.8 992,630 992.8,630 992.8,357.5 993.7,360.4 994.6,363.7 995.5,366.8 996.3,370.3 997.2,373.2 998.1,376.2 999,380.8 999.8,384.9 1000.7,389.7 1001.6,393.7 1002.4,397.9 1003.3,401.3 1004.2,404.7 1005.1,408.8 1005.9,412.4 1006.8,416.4 1007.7,421.1 1008.6,426 1009.4,430.3 1010.3,435.5 1011.2,439.7 1012.1,444.4 1012.9,448.5 1013.8,453.6 1014.7,458.2 1015.6,463 1016.4,467.5 1017.3,472.4 1018.2,477.2 1019.1,481.9 1019.9,486.7 1020.8,491 1021.7,495.5 1022.6,500.3 1023.4,504 1024.3,508.4 1025.2,512.4 1026,516.4 1026.9,520.4 1027.8,524.8 1028.7,528.6 1029.5,532.6 1030.4,536.6 1031.3,540.1 1032.2,543.8 1033,547.6 1033.9,551.9 1034.8,555.8 1035.7,560.9 1036.5,565.3 1037.4,569 1038.3,573.8 1039.2,578.9 1040,583.9 1040.9,588.9 1041.8,593.7 1042.7,598.5 1043.5,603.5 1044.6,616.5 1045.6,630 1046.2,630 1046.2,357.5 1047,360.9 1047.9,363.8 1048.8,366.6 1049.7,370.2 1050.5,372.9 1051.4,376.5 1052.3,379.7 1053.1,382.7 1054,386.7 1054.9,389.6 1055.8,393.3 1056.6,397.5 1057.5,400.2 1058.4,404.6 1059.3,407.7 1060.1,411.6 1061,415.7 1061.9,420 1062.8,424 1063.6,428.4 1064.5,432.2 1065.4,436 1066.3,439.4 1067.1,443.8 1068,447.4 1068.9,450.9 1069.8,454.9 1070.6,459 1071.5,463.4 1072.4,467.2 1073.3,472 1074.1,476.1 1075,479.6 1075.9,484 1076.7,488.1 1077.6,495.8 1078.5,503.2 1079.4,510.6 1080.2,517.8 1081.1,523 1082,528.3 1082.9,530.3 1083.7,533.4 1084.6,535 1085.5,537.2 1086.4,540.6 1087.2,542.3 1088.1,548 1089,554 1089.9,559.3 1090.7,565 1091.6,571 1092.5,576.8 1093.4,582.9 1094.2,589.5 1095.1,594.8 1096,600.7 1096.9,606.8 1097.7,612.3 1098.6,618.4 1099.5,624.2 1100.3,630 1100.9,630 1100.9,357.5 1101.8,360.5 1102.7,364 1103.7,366.8 1104.6,369.8 1105.5,372.9 1106.5,376.2 1107.3,379.3 1108.2,383 1109.1,386.2 1110,388.9 1110.8,392.4 1111.7,395.5 1112.6,399.9 1113.5,403.2 1114.3,406.9 1115.2,411.3 1116.1,416.3 1117,419.9 1117.8,424 1118.7,430.1 1119.6,434.6 1120.5,439.7 1121.3,444.6 1122.2,449.7 1123.1,452.8 1124,457.4 1124.8,461.2 1125.7,464.1 1126.6,468.7 1127.4,472.4 1128.3,476.1 1129.2,479.3 1130.1,482.6 1130.9,486 1131.8,489.8 1132.7,493.4 1133.6,497.7 1134.4,501.5 1135.3,506.8 1136.2,510.7 1137.1,515.9 1137.9,519.6 1138.9,526.8 1139.9,533.7 1140.8,541.2 1141.8,548.4" fill="none" stroke="#0072BD" stroke-width="2.62" stroke-linejoin="round" stroke-linecap="butt"/>
<polyline clip-path="url(#cDHO)" points="1258.2,590 1259,357.5 1259,630 1267.1,357.5 1267.1,630 1275.2,357.5 1275.2,630 1283.3,357.5 1283.3,630 1291.4,357.5 1291.4,630 1299.5,357.5 1299.5,630 1307.6,357.5 1307.6,630 1315.7,357.5 1315.7,630 1323.8,357.5 1323.8,630 1331.9,357.5 1331.9,630 1340,357.5 1340,630 1348.1,357.5 1348.1,630 1356.1,357.5 1356.1,630 1364.2,357.5 1364.2,630 1372.3,357.5 1372.3,630 1380.4,357.5 1380.4,630 1388.5,357.5 1388.5,630 1396.6,357.5 1396.6,630 1404.7,357.5 1404.7,630 1412.8,357.5 1412.8,630 1420.9,357.5 1420.9,630 1429,357.5 1429,630 1437.1,357.5 1437.1,630 1445.2,357.5 1445.2,630 1453.3,357.5 1453.3,630 1461.4,357.5 1461.4,630 1469.5,357.5 1469.5,630 1477.5,357.5 1477.5,630 1485.6,357.5 1485.6,630 1493.7,357.5 1493.7,630 1501.8,357.5 1501.8,630 1509.8,357.5 1509.8,630 1517.8,357.5 1517.8,630 1525.9,357.5 1525.9,630 1533.9,357.5 1533.9,630 1541.8,357.5 1541.8,630 1549.6,357.5 1549.6,630 1557.5,357.5 1557.5,630 1568.3,357.5 1568.6,630 1579.3,357.5 1580.2,420 1582,465 1583,500 1584.5,520 1586,545 1588,560 1589,630" fill="none" stroke="#0072BD" stroke-width="2.62" stroke-linejoin="round" stroke-linecap="butt"/>
<polyline clip-path="url(#cDHO)" points="1591,455 1591.6,520 1590.8,565" fill="none" stroke="#0072BD" stroke-width="2.62" stroke-linejoin="round" stroke-linecap="butt"/>
<polyline clip-path="url(#cDHO)" points="1596.3,630 1596.8,357.5 1598.6,630 1599.2,357.5 1600.3,630 1600.3,357.5 1600.3,630 1608.2,357.5 1608.2,630 1616,357.5 1616,630 1623.9,357.5 1623.9,630 1631.8,357.5 1631.8,630 1639.9,357.5 1639.9,630 1648.1,357.5 1648.1,630 1656.2,357.5 1656.2,630 1664.4,357.5 1664.4,630 1672.5,357.5 1672.5,630 1680.6,357.5 1680.6,630 1688.8,357.5 1688.8,630 1696.9,357.5 1696.9,630 1705,357.5 1705,630 1713.2,357.5 1713.2,630 1721.3,357.5 1721.3,630 1729.5,357.5 1729.5,630 1737.6,357.5 1737.6,630 1745.7,357.5 1745.7,630 1753.9,357.5 1753.9,630 1762,357.5 1762,630 1770.1,357.5 1770.1,630 1778.3,357.5 1778.3,630 1786.4,357.5 1786.4,630 1794.6,357.5 1794.6,630 1802.7,357.5 1802.7,630 1810.8,357.5 1810.8,630 1819,357.5 1819,630 1827.1,357.5 1827.1,630 1835.2,357.5 1835.2,630 1843.4,357.5 1843.4,630 1851.5,357.5 1851.5,630 1859.7,357.5 1859.7,630 1867.8,357.5 1867.8,630 1875.9,357.5 1875.9,630 1884,357.5 1884,630 1892.1,357.5 1892.1,630 1900.2,357.5 1900.2,630 1908.3,357.5 1908.3,630 1916.4,357.5 1916.4,630 1924.5,357.5 1924.5,630 1932.6,357.5 1932.6,630 1940.7,357.5 1940.7,630 1948.8,357.5 1948.8,630 1956.9,357.5 1956.9,630 1965,357.5 1965,630 1973.1,357.5 1973.1,630 1981.2,357.5 1981.2,630 1989.3,357.5 1989.3,630 1997.5,357.5 1997.5,630 2005.6,357.5 2005.6,630 2013.7,357.5 2013.7,630 2021.8,357.5 2021.8,630 2029.9,357.5 2029.9,630 2038,357.5 2038,630 2046.1,357.5 2046.1,630 2054.2,357.5 2054.2,630 2062.3,357.5 2062.3,630 2070.4,357.5 2070.4,630 2078.5,357.5 2078.5,630 2086.6,357.5 2086.6,630 2094.7,357.5 2094.7,630 2102.8,357.5 2102.8,630 2110.9,357.5 2110.9,630 2119.1,357.5 2119.1,630 2127.3,357.5 2127.3,630 2135.6,357.5 2135.6,630 2143.8,357.5 2143.8,630 2152,357.5 2152,630 2160.2,357.5 2160.2,630 2168.4,357.5 2168.4,630 2176.6,357.5 2176.6,630 2184.8,357.5 2184.8,630 2193.1,357.5 2193.1,630 2201.3,357.5 2201.3,630 2209.5,357.5 2209.5,630 2217.7,357.5 2217.7,630 2225.9,357.5 2225.9,630 2234.2,357.5 2234.2,630 2242.4,357.5 2242.4,630 2250.6,357.5 2250.6,630 2258.8,357.5 2258.8,630 2267,357.5 2267,630 2275.2,357.5 2275.2,630 2283.4,357.5 2283.4,630 2291.7,357.5 2291.7,630 2299.9,357.5 2299.9,630 2308.1,357.5 2308.1,630" fill="none" stroke="#0072BD" stroke-width="2.62" stroke-linejoin="round" stroke-linecap="butt"/>
<polyline clip-path="url(#cDHO)" points="1562.2,373.6 1563.5,377.4 1563.2,378.6 1561.8,384.7 1560.4,385.6 1562.2,390 1563,392.6 1564.8,395.8 1562.4,401.5 1565.1,405.6 1564.7,406.4 1565.6,410.6 1564.4,413.3 1563.4,419.4 1565.2,422.5 1565.9,426.1 1561.7,430.8 1561.7,430.6 1564,437.1 1565.4,439 1565.3,440.6 1568,445.2 1564.8,448.4 1566.6,452.1 1565.4,454.4 1564.9,458.4 1565.6,461.4 1565.1,466 1566.7,470 1567.1,471 1566.4,475.3 1566.8,475.5 1565.9,476.8 1568.9,485.3 1565.5,484.8 1566.4,488.4 1568.2,493 1568.2,496.5 1568.6,499.6 1566.1,500.9 1569.1,502.2 1570.4,509.4 1569.1,510.5 1568.7,514.4 1570.3,515.3 1567.7,519.2 1568.8,520.9 1569.8,523 1572.5,522.7 1570.4,526.4 1569.8,531.2 1570.1,531.8 1570.4,539.3 1571.5,538.3 1572.6,540.2 1572.2,546.4 1572.4,547.4 1569.6,552.2 1572.8,555.3 1575.4,554.6 1573.8,557.2 1574.6,561.3 1574.9,563.5 1573.2,565.5 1574,572.2 1571.6,569.5 1574.2,573.1 1573.2,578.9 1574.3,580.8 1574.5,577.6 1576.6,585.6 1577,587.6 1575.2,585.9 1577.3,588.4 1577.8,589.4 1576.8,592.2 1577.6,593 1577.2,596.3 1578.3,594.6 1578.9,595.2 1579.5,600.4 1579.1,594.7 1577.8,594.3 1578.3,591.2 1580.3,590.5 1581.1,590 1580.2,590.1 1582.4,586.2 1580.3,586.4 1583.3,583.1 1581.3,584.9 1584.5,581.1 1581.8,580.5 1582,578.9 1583.9,578.7 1584.3,574.4 1580.6,576.8 1584.1,578.5 1583.6,581.9 1585.1,581.6 1585.8,581.9 1581.9,587.9 1586,588.9 1585.4,593 1585.5,596.7" fill="none" stroke="#0072BD" stroke-width="2.4" stroke-linejoin="round" stroke-linecap="butt"/>
<polyline clip-path="url(#cDHO)" points="1565.7,373.1 1563.4,376.4 1564.6,377.8 1563.1,382.7 1563.8,385.7 1566,391.6 1565.6,393.4 1564.9,397.5 1565.5,399.1 1563.7,404.6 1563.6,408.8 1566.3,411.9 1565.6,416.4 1565,418.4 1564,421.7 1564.6,424 1567.7,431.1 1565.7,430.4 1566.5,436.8 1566.4,437.2 1567.7,445.1 1566.1,443.6 1566.7,446.7 1566.5,452.3 1565.8,456.8 1567.3,459 1568.4,462.4 1569.5,463.9 1568.9,467.6 1567.6,470 1568.3,472.7 1566.1,477.8 1568.9,479.6 1569.8,480.3 1570.1,484.1 1568.3,490.3 1570.5,492.9 1569.2,496.5 1572.1,497.7 1570.2,500.7 1571,506.1 1571.3,508.1 1569.6,509.2 1570.2,513.7 1571.2,514.7 1571.9,515.6 1569.6,519.3 1574.3,522.8 1571.7,526.5 1569.5,527.6 1572.7,532.6 1573.6,533.6 1572.5,535.8 1572,538.7 1573.2,542.1 1574.6,548.2 1574.5,549.1 1575.2,550.7 1573.3,552.7 1576.6,556.3 1571.9,558.9 1575.8,561.7 1574.5,563.8 1577.7,569.7 1577.3,571 1576.4,574.2 1577.2,577.3 1575.9,577.1 1577.2,578.2 1577.2,580.1 1578,582.5 1576.6,583.9 1575.4,587.9 1577.4,589 1576.7,590.1 1577.5,592.6 1580.1,593.5 1579.7,592.9 1580.7,598 1580.5,596.8 1581.3,598.4 1581.8,596.8 1580.8,598.1 1581.4,595.1 1581.2,593.8 1583,590.8 1583.1,589.2 1582.6,588.3 1583.3,584.9 1583.5,585.8 1584.1,581.2 1583,582.3 1582.9,581.3 1584.3,578.4 1584.9,578.5 1583.2,574.5 1585,575 1586.3,578.6 1584.3,576.2 1584.8,583.6 1587.6,583.2 1587.1,586.8 1585.9,587.4 1586.6,593.6 1587.8,594.6" fill="none" stroke="#0072BD" stroke-width="2.4" stroke-linejoin="round" stroke-linecap="butt"/>
<polyline clip-path="url(#cDHO)" points="1565.8,373.6 1567.5,374.9 1566.4,381.4 1566.2,383.2 1566.6,385.9 1565.1,391.5 1566.4,395.7 1568.6,395.3 1564.4,401.6 1565.3,408.3 1566,406.4 1567.7,410.7 1566.8,417.5 1570.1,420.2 1566,423 1568.1,426.2 1569.3,430.2 1566,430.9 1568.8,439.2 1567,437.7 1570.3,442.8 1568.5,447.8 1568.4,448.7 1565.5,453.4 1567.8,457.8 1569.4,456 1570.9,461.2 1571,466.1 1569.3,466 1570.3,471.3 1568.7,473.6 1570.6,476.8 1570,480.8 1570.3,480.3 1570.5,487.7 1572,488.1 1571.7,497.5 1571.2,494.4 1569.8,499.3 1570.5,500.6 1572.3,506.1 1572.9,508.8 1570.8,508.7 1573.8,513.3 1572.9,513.1 1571.7,519.7 1571.2,521.6 1573.9,522.5 1573.1,525.2 1574.9,531.2 1574.3,529.5 1575.9,535.2 1574.4,535.6 1573.1,538.6 1575.6,542.6 1577.8,545.6 1575.3,549.3 1577.7,551.3 1576.1,555.4 1575.6,557.4 1577.7,559.4 1579.5,559.9 1579.3,563 1578,565.3 1576,568.5 1579.6,571.7 1576.1,573.6 1579.3,575.2 1580.4,579.3 1578.5,581.9 1580.6,584 1580.9,585.2 1580,587.2 1578.4,592.5 1579.4,588.3 1580,593.9 1580.4,593.8 1581.6,595 1582.6,596.3 1582.9,595.4 1580.8,599.5 1583.3,595.8 1585.9,592.7 1582.8,593.6 1582.1,588.4 1582.9,590.8 1584,589 1583.7,585.6 1585.8,584.4 1586.2,585.4 1585.8,582.4 1587.2,580.8 1585.9,576.4 1584.3,578.2 1586.9,578.7 1585.4,575.9 1585.4,575.6 1587.5,576.3 1587.8,579.3 1586.5,581.1 1586.9,587.5 1588.5,587.4 1588.3,589.5 1586.4,595.5 1591.5,594.3" fill="none" stroke="#0072BD" stroke-width="2.4" stroke-linejoin="round" stroke-linecap="butt"/>
<polyline clip-path="url(#cNDK)" points="91.6,884.3 92.7,891.2 93.7,898.3 94.6,905.3 95.5,910.5 96.4,912.2 97.2,913.8 98.1,917.2 99,919.2 99.9,924.3 100.7,928.8 101.6,933.2 102.5,939.4 103.4,944.8 104.2,950.7 105.1,955.5 106,960.5 106.8,965.9 107.7,971.1 108.2,971.1 108.2,699.8 109.2,702.8 110.2,706.9 111.2,709.5 112.1,718.6 113,727 113.8,734.1 114.7,742.7 115.6,746.7 116.5,749.7 117.3,759.3 118.2,768.9 119.1,770.2 120,771 120.8,770.7 121.7,775.1 122.6,777.8 123.5,782.9 124.3,786.3 125.2,787.8 126.1,791.6 127,797.3 127.8,800.6 128.7,805.6 129.6,812.6 130.4,819.6 131.3,823.4 132.2,824.8 133.1,829.1 133.9,835.3 134.8,842.4 135.7,849.3 136.6,854 137.4,859.8 138.3,863 139.2,866.8 140.1,875.1 140.9,884.3 141.8,888.2 142.7,891.1 143.6,895 144.4,898.3 145.3,907.5 146.2,915.7 147.1,919.1 147.9,925.4 148.8,928.8 149.7,933.2 150.5,938.6 151.4,945.5 152.3,952.8 153.2,959.1 154,964.4 154.9,971.1 156.3,971.1 156.3,699.8 157.4,704.8 158.4,709.5 159.3,714.1 160.2,718.9 161,722.6 161.9,727 162.8,734.6 163.7,740.9 164.5,751 165.4,761.9 166.3,763.9 167.2,767.1 168,768.9 168.9,774.1 169.8,778.3 170.6,782.9 171.5,787.7 172.4,791.6 173.3,798.8 174.1,805.6 175,810.2 175.9,814.6 176.8,817.9 177.6,821.7 178.5,825.4 179.4,828.3 180.3,831.7 181.1,835.1 182,838.8 182.9,841 183.8,846.1 184.6,849.3 185.5,853.3 186.4,857.6 187.3,860 188.1,865 189,867.4 189.9,870 190.8,871.9 191.6,875.5 192.5,879.2 193.4,882.5 194.2,884 195.1,887.8 196,891.6 196.9,895.9 197.7,897.6 198.6,901.8 199.5,905.1 200.4,908 201.2,910.8 202.1,912.2 203,915.4 203.9,919.5 204.7,924.2 205.6,928 206.5,933.2 207.4,936 208.2,940.7 209.1,945.5 210,948.8 210.9,954.1 211.7,957 212.6,961.2 213.5,966.6 214.3,971.1 214.9,971.1 214.9,699.8 215.9,705.1 217,709.5 217.8,719 218.7,727 219.6,728.5 220.5,729.6 221.3,730.5 222.2,734.7 223.1,737.8 224,740.9 224.8,746.1 225.7,752.3 226.6,758.4 227.5,761.7 228.3,763.7 229.2,766.2 230.1,768.2 231,770.7 231.8,771.5 232.7,773.9 233.6,772.4 234.4,781.2 235.3,789.9 236.2,793.7 237.1,797.2 237.9,800.3 238.8,803.9 239.7,809.9 240.6,814.4 241.4,823.7 242.3,831.8 243.2,839.1 244.1,845.8 244.9,842.4 245.8,840.6 246.7,846.2 247.6,850.7 248.4,855 249.3,859.8 250.2,863.9 251.1,871.2 251.9,876.2 252.8,882.5 253.7,887.3 254.6,891.9 255.4,896.5 256.3,901.8 257.2,907.7 258,912.4 258.9,917.5 259.8,922.4 260.7,925.1 261.5,929.7 262.4,932.7 263.3,936.7 264.2,939.2 265,942 265.9,951.3 266.8,960.9 267.7,971.1 268.9,971.1 268.9,699.8 269.9,703.9 271,708.6 272,713 272.9,719.3 273.8,724.8 274.7,730.5 275.5,736.8 276.4,742.7 277.3,747.9 278.1,751.6 279,755.8 279.9,758.4 280.8,765.9 281.6,772.4 282.5,779.4 283.4,785.5 284.3,791.6 285.1,793.9 286,795.6 286.9,797.4 287.8,800.4 288.6,809.2 289.5,817.9 290.4,821.1 291.3,825.3 292.1,828 293,831.8 293.9,832.8 294.8,833.8 295.6,834.2 296.5,835.3 297.4,841.2 298.2,846.3 299.1,852.2 300,858.1 300.9,864.7 301.7,870.6 302.6,876.5 303.5,882.5 304.4,889.1 305.2,897 306.1,904.8 307,910.5 307.9,915.8 308.7,924.3 309.6,930.4 310.5,936.7 311.4,941.8 312.2,946.2 313.1,949.3 314,954.2 314.9,961 315.7,965.2 316.6,971.1 317.1,971.1 317.1,699.8 318.2,705.4 319.2,711.2 320.1,714.7 321,717.4 321.8,720.6 322.7,723.5 323.6,736.3 324.5,749.7 325.3,756.1 326.2,763.7 327.1,770.1 328,777.6 328.8,775.5 329.7,771.7 330.6,769.4 331.5,765.4 332.3,755.1 333.2,746.2 334.1,749.3 335,754.9 335.8,761.5 336.7,770.7 337.6,777.5 338.5,784.6 339.3,787.8 340.2,792.8 341.1,795.6 341.9,800.4 342.8,805.3 343.7,812 344.6,817.2 345.4,823.1 346.3,829.3 347.2,835 348.1,840.4 348.9,845.8 349.8,848.6 350.7,852.8 351.6,857.6 352.4,864.8 353.3,868.5 354.2,873.8 355.1,877.1 355.9,880 356.8,883 357.7,886 358.6,891.2 359.4,896.2 360.3,901.8 361.2,910.2 362,918.1 362.9,928 363.8,936.6 364.7,943.1 365.5,950.7 366.4,960.2 367.3,971.1 368.2,971.1 368.2,699.8 369,706.3 369.9,712.6 370.8,718.2 371.7,723.8 372.5,730.8 373.4,737.4 374.3,743.7 375.2,747.9 376,742.2 376.9,735.7 377.8,722.9 378.7,709.5 379.5,699.8 380.1,971.1 380.8,699.8 382.2,709.5 383,714.5 383.9,718.2 384.8,722.5 385.6,727 386.5,743.7 387.4,758.4 388.3,764.5 389.1,770.7 390,780.3 390.9,789.9 391.8,791.2 392.6,791.7 393.5,791.8 394.4,793.4 395.3,805.1 396.1,814.4 397,821.4 397.9,828.3 398.8,826 399.6,821.3 400.5,822.6 401.4,822.6 402.3,825 403.1,824.8 404,832.7 404.9,840.6 405.7,842.3 406.6,845 407.5,845.9 408.4,849.3 409.2,858.4 410.1,866.8 411,875.2 411.9,884.3 412.7,897.3 413.6,910.5 414.5,971.1 415.4,971.1 415.4,699.8 416.2,796.9 417.1,753.2 418,810.9 418.9,798.1 419.7,786.4 420.6,799.3 421.5,810.9 422.4,804.2 423.2,797.8 424.1,789.9 425,800.1 425.8,807.4 426.7,815.8 427.6,823.8 428.5,831.8 429.3,838 430.2,842.9 431.1,849.3 432,852.4 432.8,857 433.7,859.2 434.6,863.3 435.5,869.2 436.3,878 437.2,885.9 438.1,893 439,903 439.8,910 440.7,918.6 441.6,928 442.5,936.9 443.3,945.5 444.2,934.9 445.1,924.5 446,930.9 446.8,936.7 447.7,945 448.6,954.2 449.4,962.1 450.3,971.1 451.2,971.1 451.2,699.8 452.1,706.8 452.9,712.4 453.8,718.2 454.7,723.1 455.6,727 456.4,742.4 457.3,758.4 458.2,750.3 459.1,744.4 459.9,748.9 460.8,753.2 461.7,744.5 462.6,735.7 463.6,734.9 464.6,732.2 465.5,738.3 466.4,742.7 467.2,747.9 468.1,753.2 469,758.4 469.9,761.2 470.7,765.4 471.6,774.2 472.5,782.9 473.4,791 474.2,798.4 475.1,805.7 476,814.4 476.8,830.1 478.6,779.4 479.5,780.5 480.3,779.4 481.2,814.4 482.1,818.9 483,824.8 483.8,831.5 484.7,836.4 485.6,840.6 486.5,859.4 487.3,875.5 488.2,877.8 489.1,882 490,884.3 490.8,886.7 491.7,891 492.6,893.6 493.5,898.3 494.3,900.8 495.2,904 496.1,908.3 497,910.5 497.8,915.8 498.7,919 499.6,923.4 500.4,928 501.3,930.3 502.2,933.2 503.1,935.8 503.9,940.2 504.8,948.8 505.7,957.7 506.6,960.9 507.4,962.5 508.3,966.1 509.2,967.6 510.1,971.1 510.6,971.1 510.6,699.8 511.6,703.9 512.7,709.5 513.6,716.1 514.4,723.5 515.3,730.1 516.2,734.8 517.1,740.9 517.9,744 518.8,745.4 519.7,747.9 520.5,749.7 521.4,751.6 522.3,755.5 523.2,758.4 524,763 524.9,768.9 525.8,772.3 526.7,774.2 527.5,774.1 528.4,772 529.3,773.6 530.2,772.4 531,778.2 531.9,782.9 532.8,784.1 533.7,789.1 534.5,793.6 535.4,796.9 536.3,800 537.2,805.1 538,810.5 538.9,814.4 539.8,818.1 540.6,821.8 541.5,825.4 542.4,828.3 543.3,832.1 544.1,839.1 545,841.9 545.9,845.8 546.8,849.4 547.6,849.3 548.5,856.2 549.4,863.3 550.3,866.9 551.1,869.8 552,872.4 552.9,875.5 553.8,878.8 554.6,881.6 555.5,884.3 556.4,896.5 557.3,900.7 558.1,903.8 559,907.1 559.9,910.5 560.8,915.3 561.6,920.5 562.5,923.7 563.4,928 564.2,932.9 565.1,936.9 566,939.6 566.9,945.5 567.7,951.2 568.6,957.6 569.5,963.6 570.4,971.1 571.4,971.1 571.4,699.8 572.5,971.1 573.5,971.1 573.9,699.8 574.7,706 575.6,713 576.5,709 577.4,707.7 578.2,717.6 579.1,727 580,735.3 580.9,744.4 581.7,747.2 582.6,748.3 583.5,748.7 584.3,751.4 585.2,755.7 586.1,760.3 587,764.1 587.8,768.9 588.7,771.3 589.6,773.3 590.5,776.2 591.3,779.4 592.2,784.9 593.1,789.7 594,796.2 594.8,800.4 595.7,805.7 596.6,814.4 596.9,756.7 597.5,840.6 598.3,842.9 599.2,846.2 600.1,849.3 601,853.6 601.8,856.4 602.7,859.2 603.6,861.6 604.4,865.5 605.3,869 606.2,871.3 607.1,873.8 607.9,868.4 608.8,863.3 609.7,872.2 610.6,880.8 611.4,883.3 612.3,886.8 613.2,890.3 614.1,893 614.9,895.7 615.8,899.3 616.7,901.9 617.6,905.2 618.4,907.7 619.3,911.1 620.2,916.3 621.1,919.2 621.9,923.7 622.8,928.7 623.7,932.3 624.6,936.7 625.4,943.3 626.3,950.1 627.2,956.2 628,962.9 628.9,968.2 629.8,971.1 631.2,971.1 631.2,699.8 632.4,720 633.3,713.8 634.2,706 635,712.8 635.9,718 636.8,725.2 637.7,729.6 638.5,735 639.4,740.6 640.3,744.4 641.2,748.8 642,753.2 642.9,758 643.8,761.9 644.7,766.4 645.5,770.6 646.4,774.2 647.3,779.4 648.1,783.9 649,786.4 649.9,789.5 650.8,793.4 651.6,798.6 652.5,802.8 653.4,807.8 654.3,814.4 655.1,817.3 656,823.1 656.9,831 657.8,837.2 658.6,845.8 659.5,850.6 660.4,854.2 661.3,859.8 662.1,860.7 663,864 663.9,866.8 664.8,863.1 665.6,860 666.5,858.8 667.4,854.4 668.2,851.1 669.1,853.7 670,857.9 670.9,860 671.7,863.3 672.6,869.5 673.5,872.6 674.4,879.9 675.2,884.3 676.1,891.3 677,899.4 677.9,908 678.7,915.7 679.6,916.6 680.5,917.9 681.4,920.7 682.2,922.7 683.1,925.1 684,926.7 684.9,931.4 685.7,933.2 686.6,935.6 687.5,938.8 688.4,942.2 689.2,945.5 690.1,951.9 691,959.1 691.8,963 692.7,971.1 693.6,971.1 693.6,699.8 694.5,706 695.3,712.8 696.2,718.2 697.1,721.3 698,724 698.8,726.1 699.7,730.1 700.6,732.4 701.5,735.7 702.3,734.5 703.2,732.2 704.1,731.5 705,730.5 705.8,727.7 706.7,724 707.6,723.4 708.5,720 709.3,737.4 710.2,738.7 711.1,739.2 711.9,741.4 712.8,743.1 713.7,744.4 714.6,743.7 715.4,742.7 716.3,742.9 717.2,742.7 718.1,742 718.9,742.2 719.8,744.9 720.7,744.4 721.6,748.4 722.4,751.2 723.3,754.1 724.2,754.9 725.1,756.9 725.9,755.9 726.8,757.1 727.7,758.4 728.6,759.9 729.4,759.2 730.3,759.9 731.2,760.7 732,761.7 732.9,761.9 733.8,763.7 734.7,767.8 735.5,771 736.4,771.9 737.3,777.4 738.2,779.4 739,783.5 739.9,785.7 740.8,791.4 741.7,793.7 742.5,797.3 743.4,800.4 744.3,803.7 745.2,802.5 746,806.7 746.9,809.6 747.8,812 748.7,812.9 749.5,814.9 750.4,816.5 751.3,819 752.2,821.3 753,823.3 753.9,824.7 754.8,828.7 755.6,831 756.5,834 757.4,837.1 758.3,840.6 759.1,844.6 760,849 760.9,852.8 761.8,856.3 762.6,859.5 763.5,862.8 764.4,866.8 765.3,869 766.1,871.2 767,873.7 767.9,877.2 768.8,878.6 769.6,880.8 770.5,884.8 771.4,887.9 772.3,892.7 773.1,898.3 774,898.9 774.9,905.1 775.7,908.3 776.6,910.5 777.5,913.1 778.4,915.9 779.2,919.6 780.1,922.3 781,924.6 781.9,928 782.7,932.7 783.6,937.5 784.5,942.1 785.4,947.2 786.2,937.9 787.1,928 788,949.7 788.9,971.1 789.9,970.5 791,971.1 791,699.8 792,703.6 793.1,707.3 794.1,711.2 795,714.6 795.8,718.1 796.7,722 797.6,725.2 798.5,728.6 799.3,732.2 800.2,734.4 801.1,736.9 802,739 802.8,741.1 803.7,743.8 804.6,746.2 805.5,749.8 806.3,752.4 807.2,755.8 808.1,759 809,762.5 809.8,765.4 810.7,769.6 811.6,773.3 812.5,778.1 813.3,781.7 814.2,785.6 815.1,789.9 816,793.3 816.8,796.9 817.7,800.6 818.6,803.8 819.4,807.2 820.3,810.9 821.2,815.3 822.1,819.4 822.9,823 823.8,827.2 824.7,831.3 825.6,835.3 826.4,839 827.3,842.7 828.2,847 829.1,850.2 829.9,853.8 830.8,858.1 831.7,862.8 832.7,867.4 833.6,871.9 834.6,876.1 835.5,880.8 836.4,884.5 837.2,888 838.1,891.8 839,895.1 839.9,899.2 840.7,903.4 841.6,906.5 842.5,910.5 843.4,914.2 844.2,917.1 845.1,919.9 846,923.9 846.9,926.7 847.7,930.3 848.6,933.4 849.5,936.8 850.3,941 851.2,945.3 852.1,949.3 853,953.7 853.8,958.1 854.7,963 855.6,966.7 856.5,971.1 857,971.1 857,699.8 857.8,703.3 858.6,706.7 859.4,710.3 860.2,713.3 861,716.8 861.8,719.9 862.7,724.2 863.5,727 864.3,730.5 865.2,734.9 866.1,738.7 867,742.7 867.8,746.5 868.7,750.5 869.6,754.7 870.5,758.4 871.3,762.2 872.2,765.4 873.1,768.9 874,772.5 874.8,775.9 875.7,779.5 876.6,783.1 877.4,786.4 878.3,790 879.2,793 880.1,796.9 880.9,800.1 881.8,804 882.7,807.3 883.6,811 884.4,814.4 885.3,818.3 886.2,822.5 887.1,826.5 887.9,830.2 888.8,833.7 889.7,838 890.6,842.4 891.4,845.8 892.3,849.4 893.2,853.3 894.1,857.6 894.9,861.1 895.8,864.6 896.7,868.2 897.6,871.5 898.4,875.6 899.3,879.3 900.2,882.4 901,885 901.9,888.7 902.8,891.9 903.7,895.2 904.5,898.4 905.4,901.8 906.3,906.5 907.2,909.7 908,914.4 908.9,918.3 909.8,922.2 910.7,926.3 911.5,932 912.4,937.7 913.3,942.9 914.2,948.6 915,954.6 915.9,960.1 916.8,965.6 917.7,971.1 918.5,971.1 918.5,699.8 919.4,702.9 920.3,706.2 921.2,710.3 922,713.7 922.9,716.8 923.8,720.2 924.7,723.5 925.5,726.9 926.4,730.6 927.3,734.3 928.1,737.7 929,740.8 929.9,744.4 930.8,748 931.6,751.3 932.5,754.9 933.4,758.2 934.3,761.3 935.1,765.2 936,769 936.9,772.4 937.8,775.5 938.6,779.2 939.5,782.3 940.4,785.8 941.3,788.9 942.1,792.7 943,795.6 943.9,799 944.8,802.6 945.6,805.6 946.5,810.4 947.4,814.1 948.3,819.1 949.1,822.9 950,827.3 950.9,831.7 951.7,836.5 952.6,840.6 953.5,843.5 954.4,847.2 955.2,850.3 956.1,853.4 957,856.7 957.9,859.8 958.7,864.5 959.6,868.5 960.5,872.1 961.4,876.5 962.2,880.5 963.1,884.7 964,888.8 964.9,893 965.7,897.1 966.6,900.7 967.5,904.5 968.4,908.8 969.2,912.8 970.1,917 971,920.8 971.9,924.5 972.7,929 973.6,933.6 974.5,938.6 975.3,943.2 976.2,948 977.1,952.8 978,956.6 978.8,961.6 979.7,966.6 980.6,971.1 981.1,971.1 981.1,699.8 981.9,702.9 982.7,707 983.5,710 984.4,713.5 985.2,716.7 986,720.3 986.8,723.7 987.6,727 988.5,731.3 989.3,734.9 990.2,739 991.1,743.6 992,747.9 992.8,751.8 993.7,756 994.6,760.2 995.5,763.7 996.3,766.9 997.2,769.8 998.1,773.3 999,776.5 999.8,779.9 1000.7,783.1 1001.6,786.4 1002.4,790.1 1003.3,793.4 1004.2,797 1005.1,800.4 1005.9,803.8 1006.8,807.3 1007.7,811 1008.6,814.4 1009.4,818.5 1010.3,822.8 1011.2,827.1 1012.1,830.3 1012.9,834.3 1013.8,838.8 1014.7,842.4 1015.6,846.6 1016.4,850.3 1017.3,854.6 1018.2,858.6 1019.1,861.9 1019.9,866.4 1020.8,869.8 1021.7,873.9 1022.6,877.9 1023.4,881.3 1024.3,885.3 1025.2,889.7 1026,893 1026.9,897.1 1027.8,901.8 1028.7,905.7 1029.5,910.6 1030.4,914.9 1031.3,919 1032.2,923.4 1033,928.3 1033.9,932.6 1034.8,936.8 1035.7,940.8 1036.5,945.6 1037.4,949.4 1038.3,953.7 1039.2,958.3 1040,962.5 1040.9,966.9 1041.8,971.1 1042.3,971.1 1042.3,699.8 1043.1,703.3 1043.9,706 1044.7,709.5 1045.5,712.6 1046.4,715.3 1047.2,719.1 1048,722.3 1048.8,725.2 1049.6,729.1 1050.4,733.5 1051.2,738 1052,742.1 1052.8,746 1053.6,750.2 1054.4,754.3 1055.2,758.3 1056,762.8 1056.8,767.4 1057.7,770.7 1058.5,775.2 1059.3,779.4 1060.1,782.7 1061,786.8 1061.9,789.5 1062.8,793.6 1063.6,797 1064.5,800.2 1065.4,803.8 1066.3,807.4 1067.1,810.9 1068,814.8 1068.9,818 1069.8,821.7 1070.6,825.1 1071.5,828.4 1072.4,831.9 1073.3,835.4 1074.1,840.2 1075,845.6 1075.9,850.4 1076.7,855.2 1077.6,859.7 1078.5,864.7 1079.4,869.8 1080.2,874.5 1081.1,879.1 1082,884.3 1082.9,888 1083.7,892.5 1084.6,896.6 1085.5,900.5 1086.4,904.8 1087.2,908.1 1088.1,912 1089,916.5 1089.9,920.7 1090.7,924.5 1091.6,929 1092.5,933.9 1093.4,938.6 1094.2,943 1095.1,947.6 1096,952.4 1096.9,957.1 1097.7,962 1098.6,966.4 1099.5,971.1 1100.3,971.1 1100.3,699.8 1101.2,702.7 1102.1,705.8 1103,709.1 1103.8,712.5 1104.7,715.3 1105.6,718.5 1106.5,721.7 1107.3,725.8 1108.2,729.7 1109.1,734 1110,737.6 1110.8,741.6 1111.7,745.9 1112.6,748.8 1113.5,753.2 1114.3,758.4 1115.2,764.4 1116.1,770.3 1117,775.9 1117.8,781.5 1118.7,786.4 1119.6,791.4 1120.5,795.9 1121.3,800.5 1122.2,805.6 1123.1,810.1 1124,814.3 1124.8,818.5 1125.7,822.8 1126.6,827.7 1127.4,831.8 1128.3,836.3 1129.2,840.6 1130.1,843.8 1130.9,846.8 1131.8,850.1 1132.7,853.3 1133.6,856.6 1134.4,859.8 1135.3,864.1 1136.1,868.9 1136.9,873 1137.7,877.8 1138.5,882.2 1139.3,886.8 1140.2,890.4 1141,895.7 1141.8,900" fill="none" stroke="#0072BD" stroke-width="2.62" stroke-linejoin="round" stroke-linecap="butt"/>
<polyline clip-path="url(#cJXN)" points="1258.2,807.7 1258.9,814.7 1259.6,724.6 1260.4,793.3 1261.1,766.2 1261.8,706.5 1262.5,699.8 1263.2,799.1 1264,785.8 1264.7,751.1 1265.4,818.2 1266.1,805.6 1266.8,795 1267.6,699.8 1268.3,699.8 1268.5,971.1 1268.3,781.2 1269,791.7 1269.7,881.5 1270.4,816.5 1271.2,796.2 1271.9,713.6 1272.6,880.7 1273.3,754.5 1274,849.3 1274.8,777.2 1275.5,787.8 1276.2,850.5 1276.9,783.7 1277.6,817.5 1278.4,744.4 1279.1,794.9 1279.8,699.8 1280.5,801.6 1281.2,773.3 1282,784.2 1282.7,699.8 1282.9,971.1 1282.7,742.2 1283.4,834 1284.1,865.9 1284.8,877.7 1285.6,856.6 1286.3,820.5 1287,818.1 1287.7,971.1 1288,699.8 1287.7,815.3 1288.4,825.3 1289.2,828.9 1289.9,840.3 1290.6,702.1 1291,770.5 1291.7,849.3 1292.4,769.6 1293.2,821 1293.9,866 1294.6,781.3 1295.3,806.5 1296,780 1296.8,798 1297.5,758.8 1298.2,768.1 1298.9,792 1299.6,822.7 1300.4,746.2 1301.1,809.9 1301.8,822.9 1302.5,865.4 1303.2,725.4 1304,731.2 1304.7,731.1 1305.4,790.1 1306.1,753 1306.8,804.3 1307.6,824.1 1308.3,829.7 1309,699.8 1309.7,799.9 1310.4,819.9 1311.2,763 1311.9,753.6 1312.6,699.8 1312.9,971.1 1312.6,744.5 1313.3,838.3 1314,913.3 1314.8,724.1 1315.5,813.3 1316.2,699.8 1316.5,971.1 1316.2,760.9 1316.9,755.7 1317.6,818.1 1318.4,809.1 1319.1,796.4 1319.8,699.8 1320.1,971.1 1319.8,828.7 1320.5,859.1 1321.2,819.4 1322,820.6 1322.7,789.2 1323.4,877.8 1324.1,863.5 1324.8,825.3 1325.6,747.9 1326.3,782.5 1327,780.5 1327.7,699.8 1328,971.1 1327.7,818.1 1328.4,699.8 1328.7,971.1 1328.4,699.8 1329.2,734.3 1329.9,699.8 1330,810.9 1330.7,804.2 1331.4,779.6 1332.2,894.5 1332.9,861.4 1333.6,786.3 1334.3,793.8 1335,892.4 1335.8,806.3 1336.5,815.9 1337.2,873.9 1337.9,817.8 1338.6,787.1 1339.4,971.1 1339.6,699.8 1339.4,828.6 1340.1,861.2 1340.8,738.6 1341.5,801.4 1342.2,971.1 1342.5,699.8 1342.2,946.7 1343,853.7 1343.7,699.8 1343.9,971.1 1343.7,752.4 1344.4,759.8 1345.1,971.1 1345.4,699.8 1345.1,796.9 1345.8,718.8 1346.6,841 1347.3,833.5 1348,964.1 1348.7,850.9 1349.4,971.1 1349.7,699.8 1349.4,906.7 1350.2,798.3 1350.9,820.8 1351.6,878.1 1352.3,911.6 1353,971.1 1353.8,699.8 1354,971.1 1353.8,839.6 1354.5,826.5 1355.2,794 1355.9,782.8 1356.6,728 1357.4,941.6 1358.1,832.4 1358.8,699.8 1359.1,971.1 1358.8,825.8 1359.5,699.8 1359.8,971.1 1359.5,877.9 1360.2,918.3 1361,926 1361.7,797 1362.4,825.8 1363.1,820.3 1363.8,773 1364.6,883 1365.3,845.8 1366,699.8 1366.7,841.7 1367,869.2 1367.7,893.8 1368.4,789.4 1369.2,882.2 1369.9,859.8 1370.6,779.2 1371.3,779.2 1372,782.3 1372.8,844.2 1373.5,783.9 1374.2,811.9 1374.9,971.1 1375.6,904.7 1376.4,793.1 1377.1,881.9 1377.8,862.3 1378.5,895.6 1379.2,906 1380,873.2 1380.7,945.4 1381.4,841.7 1382.1,891.8 1382.8,699.8 1383.1,971.1 1382.8,876.4 1383.6,884.3 1384.3,924 1385,947.5 1385.7,818 1386.4,874.5 1387.2,861.7 1387.9,971.1 1388.6,878.1 1389.3,879.1 1390,758.6 1390.8,743.9 1391.5,791.5 1392,770.8 1392.7,699.8 1393.4,777.1 1394.2,779.7 1394.9,718 1395.6,699.8 1395.9,971.1 1395.6,711.4 1396.3,699.8 1397,853.8 1397.8,863 1398.5,892.1 1399.2,867.9 1399.9,843.8 1400.6,971.1 1401.4,943.9 1402.1,827.2 1402.8,837.5 1403.5,893.7 1404.2,891.6 1405,863.3 1405.7,893.7 1406.4,754.6 1407.1,950.5 1407.8,886.4 1408.6,971.1 1408.8,699.8 1408.6,943.2 1409.3,933.3 1410,853.1 1410.7,918.8 1411.4,971.1 1412.2,870.3 1412.9,882.1 1413.6,699.8 1413.9,971.1 1413.6,864 1414.3,824.9 1415,728 1415.8,718.4 1416.5,699.8 1417.2,706.8 1417.9,925 1418.6,871.1 1419.4,826.1 1420.1,949.2 1420.8,778.1 1421.5,889.2 1422.2,900.5 1423,833.2 1423.7,890.3 1424.4,879.3 1425.1,819.2 1425.8,699.8 1426.1,971.1 1425.8,809.9 1426.6,895 1427.3,800.6 1428,730.2 1428.7,844.3 1429.4,971.1 1429.7,699.8 1429.4,915.6 1430.2,971.1 1430.4,699.8 1430.2,815.9 1430.9,809.8 1431.6,971.1 1431.9,699.8 1431.6,861.5 1432.3,971.1 1432.6,699.8 1432.3,875.4 1433,829.4 1433.8,798 1434.5,699.8 1434.7,971.1 1434.5,743.5 1435.2,766.1 1435.9,760.2 1436,840.6 1436.7,872.8 1437.4,971.1 1437.7,699.8 1437.4,908 1438.2,866.7 1438.9,905.8 1439.6,828.9 1440.3,731.6 1441,971.1 1441.3,699.8 1441,759.5 1441.8,831.1 1442.5,764.7 1443.2,895 1443.9,739.5 1444.6,915.1 1445.4,854.5 1446.1,819.6 1446.8,773.2 1447.5,868.5 1448.2,712.5 1449,791.2 1449.7,813.8 1450.4,699.8 1451.1,770.2 1451.8,931.7 1452.6,953.7 1453.3,794.1 1454,836.9 1454.7,923.3 1455.4,903.5 1456.2,699.8 1456.4,971.1 1456.2,877.8 1456.9,797.3 1457.6,801.9 1458.3,779.4 1459,789.2 1459.8,699.8 1460.5,699.8 1461.2,699.8 1461.9,738.6 1462.6,819.1 1463.4,832.8 1464.1,859.6 1464.8,916.2 1465.5,865.8 1466.2,728.1 1467,838.1 1467.7,699.8 1468.4,801 1469.1,899 1469.8,848.2 1470.6,918 1471.3,807 1472,699.8 1472.3,971.1 1472,861.9 1472.7,779.1 1473.4,971.1 1473.7,699.8 1473.4,832.9 1474.2,699.8 1474.4,971.1 1474.2,835.5 1474.9,820.1 1475.6,715.9 1476.3,725.6 1477,776.4 1477.8,699.8 1478.5,709.5 1479.2,729.4 1479.9,699.8 1480.2,971.1 1479.9,797.8 1480.6,810.2 1481.4,813.6 1482.1,725.2 1482.8,872.5 1483.5,803.2 1484.2,937.6 1485,788.4 1485.7,713.7 1486.4,782.8 1487.1,799.1 1487.8,699.8 1488.1,971.1 1487.8,780 1488.6,744.2 1489.3,733.3 1490,897.1 1490.7,768.3 1491.4,802.6 1492.2,699.8 1492.4,971.1 1492.2,837.4 1492.9,861.1 1493.6,871.5 1494,833.8 1494.7,837.9 1495.4,835.2 1496.2,752.5 1496.9,727 1497.6,736.1 1498.3,713.5 1499,723.7 1499.8,765.5 1500.5,831.2 1501.2,828.7 1501.9,699.8 1502.2,971.1 1501.9,819 1502.6,802.5 1503.4,873.5 1504.1,817.2 1504.8,849.1 1505.5,708.8 1506.2,728.8 1507,909.1 1507.7,835.7 1508.4,892.5 1509.1,892.7 1509.8,971.1 1510.6,894.7 1511.3,699.8 1511.5,971.1 1511.3,855.6 1512,841.5 1512.7,854.5 1513.4,850.7 1514.2,858.7 1514.9,903.9 1515.6,947.9 1516.3,831.8 1517,971.1 1517.8,699.8 1518,971.1 1517.8,895.3 1518.5,812.6 1519.2,816.9 1519.9,892.8 1520.6,856.9 1521.4,842.7 1522.1,964.1 1522.8,835.4 1523.5,971.1 1523.8,699.8 1523.5,971.1 1524.2,894.6 1525,812.6 1525.7,936.9 1526,901.9 1526.7,874.4 1527.4,924.5 1528.2,875.8 1528.9,882.5 1529.6,971.1 1529.9,699.8 1529.6,931.1 1530.3,843.2 1531,739.7 1531.8,786.7 1532.5,858.9 1533.2,868 1533.9,823.7 1534.6,851.5 1535.4,881.9 1536.1,838.6 1536.8,775.4 1537.5,752.4 1538.2,804.8 1539,971.1 1539.2,699.8 1539,804.7 1539.7,807.9 1540.4,708.5 1541.1,789.4 1541.8,699.8 1542.1,971.1 1541.8,731.2 1542.6,838.2 1543.3,699.8 1543.5,971.1 1543.3,752.1 1544,816.4 1544.7,813.5 1545.4,725.6 1546.2,839.6 1546.9,770.4 1547.6,721.8 1548.3,733 1549,769.1 1549.8,736.8 1550.5,699.8 1551.2,817.3 1551.9,807.6 1552.6,743.9 1553.4,783.5 1554.1,971.1 1554.3,699.8 1554.1,783.6 1554.8,830.1 1555.5,857.4 1556.2,819.4 1557,812.7 1557.7,808.9 1558.4,750.5 1559.1,806.4 1559.8,816.5 1560.6,699.8 1561.3,782.6 1562,867.7 1562.7,770.4 1563.4,699.8 1564.2,787.2 1564.9,749.3 1565.6,786.3 1566.3,825.4 1567,971.1 1567.3,699.8 1567,729.8 1567.8,775 1568.5,839.7 1569.2,829.7 1569.9,797.7 1570.6,837.9 1571.4,699.8 1572.1,790.9 1572.8,840.6 1573.5,903.8 1574.2,829.6 1575,901.1 1575.7,742.1 1576.4,861.4 1577.1,825.4 1577.8,808.3 1578.6,856.6 1579.3,751.8 1580,849.5 1580.7,962.4 1581.4,856.6 1582.2,829 1582.9,875.5 1583.6,902.6 1584.3,809.5 1585,796.9 1585.8,845.8 1586.5,863.1 1587.2,940.9 1587.9,941.6 1588.6,938.9 1589.4,767.5 1590.1,727.3 1590.8,778.8 1591.5,874.5 1592.2,862.8 1593,865 1593.7,699.8 1593.9,971.1 1593.7,822.2 1594.4,778.5 1595.1,829.3 1595.8,903.2 1596.6,754.9 1597.3,746 1598,800.3 1598.7,782.5 1599.4,833.4 1600.2,971.1 1600.4,699.8 1600.2,831.3 1600.9,714.5 1601.6,699.8 1602.3,754.4 1603,830.4 1603.8,869.7 1604,913.5 1604.7,832.1 1605.4,971.1 1605.7,699.8 1605.4,798.3 1606.2,783.9 1606.9,841.8 1607.6,795.9 1608.3,844.3 1609,762.5 1609.8,853.6 1610.5,782.8 1611.2,875.7 1611.9,850.2 1612.6,901.4 1613.4,810.1 1614.1,853.6 1614.8,963.6 1615.5,841.7 1616.2,761.9 1617,873 1617.7,884.8 1618.4,699.8 1618.7,971.1 1618.4,788.6 1619.1,902.9 1619.8,820.4 1620.6,804 1621.3,878.1 1622,824.6 1622.7,880.1 1623.4,971.1 1623.7,699.8 1623.4,849.7 1624.2,782.6 1624.9,819.8 1625.6,805.7 1626.3,868.7 1627,789.4 1627.8,810.4 1628.5,914 1629.2,859 1629.9,924.2 1630.6,875.6 1631.4,971.1 1632.1,699.8 1632.3,971.1 1632.1,971.1 1632.8,971.1 1633.5,911.3 1634.2,894.4 1635,699.8 1635.2,971.1 1635,806.3 1635.7,923.3 1636,910 1636.7,917.2 1637.4,928.4 1638.2,941.2 1638.9,872.5 1639.6,888.3 1640.3,826.1 1641,913 1641.8,934.6 1642.5,882.2 1643.2,883 1643.9,911.7 1644.6,931.5 1645.4,971.1 1645.6,699.8 1645.4,866.7 1646.1,918.7 1646.8,866.8 1647.5,889.3 1648.2,914.3 1649,800.4 1649.7,885.5 1650.4,854.2 1651.1,848.7 1651.8,848.8 1652.6,900.8 1653,810.3 1653.7,699.8 1654,971.1 1653.7,846.8 1654.4,971.1 1655.2,971.1 1655.9,699.8 1656.1,971.1 1655.9,845.5 1656.6,971.1 1656.9,699.8 1656.6,867 1657.3,971.1 1657.6,699.8 1657.3,920.8 1658,971.1 1658.3,699.8 1658,842.6 1658.8,820.7 1659.5,881.8 1660.2,699.8 1660.5,971.1 1660.2,971.1 1660.9,904.4 1661.6,801.5 1662.4,971.1 1662.6,699.8 1662.4,851.2 1663.1,943.8 1663.8,954.6 1664.5,878.5 1665.2,699.8 1665.5,971.1 1665.2,763 1666,924.3 1666.7,750.6 1667.4,848.6 1668.1,853.9 1668.8,822.6 1669.6,844 1670.3,831.1 1671,971.1 1671.7,699.8 1672,971.1 1671.7,869.1 1672,869.7 1672.7,939.6 1673.4,876.9 1674.2,787 1674.9,777.6 1675.6,744.5 1676.3,887.2 1677,803 1677.8,864.7 1678.5,781.6 1679.2,873.1 1679.9,846.7 1680.6,817.7 1681.4,882 1682.1,953.5 1682.8,699.8 1683.1,971.1 1682.8,856 1683.5,923.2 1684.2,946 1685,899.8 1685.7,699.8 1685.9,971.1 1685.7,870.2 1686.4,837.9 1687.1,830.4 1687.8,915 1688.6,908.6 1689.3,932.3 1690,803.7 1690.7,867.8 1691.4,892.5 1692.2,910.2 1692.9,955.7 1693.6,917.5 1694.3,971.1 1694.6,699.8 1694.3,929.3 1695,955.4 1695.8,891 1696.5,971.1 1697.2,842.3 1697.9,913.1 1698.6,860.5 1699.4,699.8 1699.6,971.1 1699.4,792.4 1700.1,961.4 1700.8,791.6 1701.5,780.7 1702,840.4 1702.7,842.9 1703.4,819.2 1704.2,886.6 1704.9,780.9 1705.6,782.9 1706.3,858.1 1707,863.4 1707.8,862.9 1708.5,884.7 1709.2,846.5 1709.9,782.1 1710.6,896.3 1711.4,759.7 1712.1,819 1712.8,882.1 1713.5,831 1714,783.1 1714.7,871 1715.4,946.4 1716.2,857.4 1716.9,817.2 1717.6,916.6 1718.3,966.4 1719,965.8 1719.8,778.6 1720.5,900.4 1721.2,874.7 1721.9,876.9 1722.6,814.6 1723.4,699.8 1723.6,971.1 1723.4,791.2 1724.1,813 1724.8,939.1 1725.5,892 1726.2,961 1727,793.2 1727.7,873.2 1728.4,819.5 1729.1,798.2 1729.8,819.2 1730.6,897.8 1731.3,898 1732,860 1732.7,928.8 1733.4,936 1734.2,951 1734.9,937.4 1735.6,971.1 1736.3,903.6 1737,791.2 1737.8,893.5 1738,855.3 1738.7,971.1 1739.4,699.8 1739.7,971.1 1739.4,931.5 1740.2,699.8 1740.4,971.1 1740.2,818 1740.9,971.1 1741.1,699.8 1740.9,917.9 1741.6,844.6 1742.3,699.8 1742.6,971.1 1742.3,971.1 1743,881.4 1743.8,699.8 1744,971.1 1743.8,959.2 1744.5,773.4 1745.2,771.4 1745.9,699.8 1746.2,971.1 1745.9,971.1 1746.6,909.7 1747.4,699.8 1747.6,971.1 1747.4,849.6 1748.1,812.2 1748.8,822.4 1749.5,971.1 1750.2,699.8 1750.5,971.1 1750.2,769.2 1751,956.9 1751.7,726.6 1752.4,699.8 1753.1,816.8 1753.8,782.7 1754.6,807.8 1755.3,710 1756,971.1 1756.3,699.8 1756,971.1 1756.7,971.1 1757,699.8 1756.7,870.1 1757.4,720 1758,812.7 1758.7,874.4 1759.4,931.7 1760.2,856.7 1760.9,699.8 1761.1,971.1 1760.9,951 1761.6,925.5 1762.3,909.5 1763,946.2 1763.8,937.3 1764.5,814.3 1765.2,816.1 1765.9,870.2 1766.6,828.7 1767.4,844.3 1768.1,842.2 1768.8,971.1 1769.1,699.8 1768.8,837.2 1769.5,880.6 1770.2,824.8 1771,768.7 1771.7,699.8 1772.4,740.4 1773.1,904 1773.8,872.6 1774.6,770.4 1775.3,753.3 1776,782.2 1776.7,870.3 1777.4,883 1778.2,751.8 1778.9,882.8 1779.6,903.2 1780.3,784.9 1781,786.9 1781.8,887.4 1782.5,943.3 1783.2,920.5 1783.9,832.5 1784.6,790.5 1785.4,951.3 1786.1,845.4 1786.8,880.9 1787.5,919.2 1788.2,816.5 1789,823.9 1789.7,784.3 1790,771.3 1790.7,799.5 1791.4,808.8 1792.2,915.9 1792.9,856.6 1793.6,853.6 1794.3,843.9 1795,881.4 1795.8,808.1 1796.5,782.9 1797.2,839.4 1797.9,823.2 1798.6,801.9 1799.4,699.8 1799.6,971.1 1799.4,906.6 1800.1,939.6 1800.8,946.2 1801.5,824 1802.2,854.4 1803,794.4 1803.7,927.4 1804,840.3 1804.7,948.8 1805.4,971.1 1806.2,904.2 1806.9,898.5 1807.6,933.7 1808.3,792 1809,859.6 1809.8,796.1 1810.5,805.8 1811.2,863.7 1811.9,782.6 1812.6,699.8 1812.9,971.1 1812.6,778.2 1813.4,777.8 1814.1,765.4 1814.8,797 1815.5,874.4 1816.2,872.3 1817,876.5 1817.7,789.9 1818.4,809.3 1819.1,779.2 1819.8,785.5 1820.6,875.7 1821.3,949.4 1822,930.2 1822.7,772.7 1823.4,881.8 1824.2,699.8 1824.4,971.1 1824.2,827.8 1824.9,932.7 1825.6,829.6 1826.3,872.8 1827,699.8 1827.3,971.1 1827,872 1827.8,874.9 1828.5,884.9 1829.2,907.3 1829.9,933.8 1830.6,824.7 1831.4,733.4 1832.1,808.5 1832.8,829.2 1833.5,791.8 1834.2,903.6 1835,971.1 1835.2,699.8 1835,880.1 1835.7,904 1836.4,863.4 1837.1,836 1837.8,746 1838.6,816.2 1839.3,699.8 1840,699.8 1840.7,944 1841.4,865.8 1842.2,880.1 1842.9,919 1843.6,923.8 1844.3,933.7 1845,820.2 1845.8,862.5 1846.5,971.1 1846.7,699.8 1846.5,916.3 1847.2,731.7 1847.9,721.5 1848.6,803.8 1849.4,930.7 1850.1,699.8 1850.3,971.1 1850.1,918.6 1850.8,759.2 1851.5,703.9 1852.2,907.9 1853,879.4 1853.7,792 1854.4,842.4 1855.1,857.9 1855.8,771.1 1856.6,896.8 1857.3,938.3 1858,834.7 1858.7,882 1859.4,834 1860.2,843.3 1860.9,914 1861.6,959.8 1862.3,971.1 1863,827.3 1863.8,843.5 1864.5,952.5 1865.2,907.2 1865.9,971.1 1866.6,953.5 1867.4,971.1 1868.1,964.7 1868.8,899.4 1869.5,906.2 1870.2,846.3 1871,971.1 1871.2,699.8 1871,847.5 1871.7,971.1 1872.4,971.1 1873.1,794.9 1873.8,823.8 1874.6,971.1 1874.8,699.8 1874.6,942.2 1875.3,845.3 1876,884.1 1876.7,971.1 1877,699.8 1876.7,840.9 1877.4,882.9 1878.2,734.3 1878.9,839.6 1879.6,802.3 1880.3,815.1 1881,971.1 1881.8,807.3 1882.5,851.5 1883.2,915 1883.9,829 1884.6,818.7 1885.4,699.8 1885.6,971.1 1885.4,802 1886.1,929.3 1886.8,825.6 1887.5,826.6 1888.2,755.2 1889,856.3 1889.7,971.1 1890.4,810.9 1891.1,859 1891.8,846.5 1892.6,829.3 1893.3,845.6 1894,781.2 1894.7,730.8 1895.4,751.1 1896.2,905.1 1896.9,803.8 1897,820.7 1897.7,795 1898.4,809.8 1899.2,786.9 1899.9,804.6 1900.6,745.3 1901.3,699.8 1901.6,971.1 1901.3,835.8 1902,890.3 1902.8,971.1 1903,699.8 1902.8,832.7 1903.5,971.1 1903.7,699.8 1903.5,840.9 1904.2,734.7 1904.9,778.9 1905.6,703.5 1906.4,699.8 1907.1,808.1 1907.8,878.8 1908.5,833.2 1909.2,764.2 1910,699.8 1910.2,971.1 1910,722.4 1910.7,785.8 1911.4,699.8 1911.7,971.1 1911.4,809.7 1912.1,971.1 1912.4,699.8 1912.1,699.8 1912.8,699.8 1913.6,847.6 1914.3,810.6 1915,886.6 1915.7,780.2 1916.4,915.3 1917.2,971.1 1917.4,699.8 1917.2,863 1917.9,764.3 1918.6,971.1 1918.9,699.8 1918.6,855.7 1919.3,951.8 1920,873.8 1920.8,835.9 1921.5,862.8 1922.2,898.1 1922.9,971.1 1923.2,699.8 1922.9,960.6 1923.6,927.6 1924.4,776.8 1925.1,869.7 1925.8,724.5 1926.5,971.1 1926.8,699.8 1926.5,855.5 1927.2,971.1 1927.5,699.8 1927.2,777.9 1928,699.8 1928.2,971.1 1928,945.7 1928.7,835.6 1929.4,971.1 1929.7,699.8 1929.4,878.1 1930.1,971.1 1930.4,699.8 1930.1,810.8 1930.8,774 1931.6,880.7 1932.3,719 1933,869.1 1933.7,748.4 1934.4,884.8 1935.2,876 1935.9,957.4 1936.6,851.8 1937.3,856.9 1938,772.6 1938.8,971.1 1939,699.8 1938.8,818.9 1939.5,857.5 1940.2,753.1 1940.9,807.9 1941.6,699.8 1941.9,971.1 1941.6,839.4 1942.4,699.8 1942.6,971.1 1942.4,832.2 1943.1,971.1 1943.8,971.1 1944.5,868.9 1945.2,699.8 1945.5,971.1 1945.2,858.4 1946,971.1 1946.7,699.8 1946.9,971.1 1946.7,971.1 1947.4,699.8 1947.7,971.1 1947.4,971.1 1948.1,946.5 1948.8,840.8 1949.6,903.8 1950.3,793.1 1951,838.5 1951.7,808 1952.4,971.1 1952.7,699.8 1952.4,971.1 1953.2,847.8 1953.9,945.8 1954.6,779.5 1955.3,971.1 1955.6,699.8 1955.3,833 1956,746.5 1956.8,867.3 1957.5,822.2 1958.2,797.5 1958.9,824.3 1959.6,840.5 1960.4,784.7 1961.1,971.1 1961.3,699.8 1961.1,722.4 1961.8,699.8 1962.5,782.1 1963.2,776.1 1964,841 1964.7,971.1 1964.9,699.8 1964.7,833.4 1965.4,780.4 1966.1,935.2 1966.8,864.4 1967.6,852.2 1968.3,726.2 1969,971.1 1969.3,699.8 1969,808.1 1969.7,798.1 1970.4,930.1 1971.2,829 1971.9,773.6 1972.6,699.8 1973.3,826.8 1974,782.7 1974.8,971.1 1975,699.8 1974.8,793.9 1975.5,949.6 1976.2,823.5 1976.9,971.1 1977.6,699.8 1977.9,971.1 1977.6,890.1 1978.4,699.8 1978.6,971.1 1978.4,849.8 1979.1,782.5 1979.8,724.5 1980.5,699.8 1981.2,750.4 1982,887.7 1982.7,707.4 1983.4,721.4 1984.1,699.8 1984.8,699.8 1985.6,895.5 1986.3,971.1 1987,865.9 1987.7,732.1 1988.4,883.3 1989.2,751.8 1989.9,805.6 1990.6,840.9 1991.3,775.6 1992,728.2 1992.8,794.6 1993.5,824.6 1994.2,816.3 1994.9,800.9 1995.6,821.6 1996.4,812 1997.1,761.1 1997.8,785.8 1998.5,802.4 1999.2,753.4 2000,792.7 2000.7,699.8 2001.4,749.5 2002.1,699.8 2002.4,971.1 2002.1,880.8 2002.8,858 2003.6,826.3 2004.3,765.8 2005,785.8 2005.7,799.5 2006.4,844 2007.2,833.9 2007.9,841.5 2008.6,799.2 2009.3,783.1 2010,773.2 2010.8,826.9 2011.5,724.9 2012.2,764.1 2012.9,745.5 2013.6,828.3 2014.4,804.1 2015.1,769 2015.8,802.2 2016.5,777.8 2017.2,900.4 2018,797.7 2018.7,808.7 2019.4,786.3 2020.1,808.1 2020.8,848.5 2021.6,828.2 2022.3,760.7 2023,775.8 2023.7,849.8 2024,780.4 2024.7,724.4 2025.4,699.8 2026.2,706.1 2026.9,725.5 2027.6,761.5 2028.3,745.8 2029,699.8 2029.3,971.1 2029,954 2029.8,739.2 2030.5,850 2031.2,853.7 2031.9,786.2 2032.6,860.3 2033.4,838.4 2034.1,931.6 2034.8,747 2035.5,781.7 2036.2,758.1 2037,971.1 2037.2,699.8 2037,795.8 2037.7,910.7 2038.4,971.1 2039.1,857.4 2039.8,751.5 2040.6,803.6 2041.3,784 2042,741.6 2042.7,797.8 2043.4,824.8 2044.2,789.2 2044.9,848.3 2045.6,753.6 2046.3,816.3 2047,834.9 2047.8,825.8 2048.5,858.4 2049,853.3 2049.7,760.1 2050.4,802.2 2051.2,734.9 2051.9,734.6 2052.6,790.9 2053.3,777.5 2054,699.8 2054.3,971.1 2054,849.5 2054.8,821.7 2055.5,803.3 2056.2,801.4 2056.9,836.2 2057.6,699.8 2057.9,971.1 2057.6,761.6 2058.4,749.2 2059.1,780.1 2059.8,728.3 2060.5,801.5 2061.2,971.1 2061.5,699.8 2061.2,851.3 2062,840.4 2062.7,785.6 2063.4,801 2064.1,772.5 2064.8,751.6 2065.6,759.3 2066.3,850.8 2067,840.3 2067.7,760.7 2068.4,971.1 2068.7,699.8 2068.4,761.1 2069.2,877.3 2069.9,801 2070.6,775.4 2071.3,729.2 2072,802.7 2072.8,769.1 2073.5,774.6 2074.2,803.8 2074.9,971.1 2075.2,699.8 2074.9,831.3 2075.6,922 2076.4,760.5 2077.1,742.1 2077.8,741.4 2078.5,971.1 2078.8,699.8 2078.5,719 2079.2,746.7 2080,793.6 2080.7,699.8 2080.9,971.1 2080.7,731 2081.4,971.1 2081.6,699.8 2081.4,699.8 2082.1,776.2 2082.8,800.9 2083.6,716.9 2084.3,971.1 2084.5,699.8 2084.3,749.4 2085,727.4 2085.7,723.4 2086.4,699.8 2087.2,743.3 2087.9,971.1 2088.1,699.8 2087.9,722.4 2088,768.8 2088.7,699.8 2089.4,773.3 2090.2,818.1 2090.9,751.3 2091.6,743.3 2092.3,858.4 2093,827.3 2093.8,820.3 2094.5,873.2 2095.2,884.1 2095.9,821.5 2096.6,804.2 2097.4,810.2 2098.1,801.1 2098.8,823.8 2099.5,838.3 2100.2,818.4 2101,907.3 2101.7,842.6 2102.4,825.5 2103.1,870.7 2103.8,847 2104.6,819.1 2105.3,889.5 2106,934.9 2106.7,871.8 2107.4,858.1 2108.2,821.3 2108.9,754.3 2109.6,821.7 2110.3,849.4 2111,896.2 2111.8,880.8 2112.5,859.7 2113.2,971.1 2113.4,699.8 2113.2,887.1 2113.9,901.6 2114.6,910.8 2115.4,944.9 2116.1,879.7 2116.8,907.5 2117.5,904.3 2118.2,872.2 2119,876.9 2119.7,743.9 2120.4,859.2 2121.1,808 2121.8,857.3 2122.6,804.7 2123.3,776.4 2124,770.8 2124.7,706 2125.4,874.1 2126.2,852 2126.9,807.1 2127.6,887.7 2128.3,816 2129,796.8 2129.8,789.9 2130.5,898 2131.2,782 2131.9,699.8 2132.2,971.1 2131.9,856.6 2132.6,884.5 2133.4,876.4 2134.1,818.5 2134.8,772.2 2135.5,862 2136,802 2136.7,699.8 2137,971.1 2136.7,814.7 2137.4,971.1 2137.7,699.8 2137.4,843.7 2138.2,699.8 2138.9,717.5 2139.6,741.3 2140.3,759.9 2141,771.1 2141.8,792.2 2142.5,868.9 2143.2,858 2143.9,699.8 2144.2,971.1 2143.9,776.5 2144.6,709.2 2145.4,740.8 2146.1,821.2 2146.8,816.5 2147.5,834.8 2148.2,786 2149,799.6 2149.7,971.1 2149.9,699.8 2149.7,792.2 2150.4,699.8 2150.6,971.1 2150.4,827 2151.1,721.1 2151.8,776.7 2152.6,767.6 2153.3,772.6 2154,699.8 2154.7,741.2 2155.4,724.4 2156.2,701.4 2156.9,971.1 2157.1,699.8 2156.9,747.2 2157.6,699.8 2158.3,721.2 2159,699.8 2159.3,971.1 2159,774.9 2159.8,699.8 2160,971.1 2159.8,765.4 2160.5,739.8 2161.2,737.8 2161.9,784.8 2162.6,844.2 2163.4,806.8 2164.1,766.2 2164.8,733.6 2165.5,728.5 2166.2,737.7 2167,768 2167.7,699.8 2168.4,761 2169.1,835.2 2169.8,756 2170.6,699.8 2170.8,971.1 2170.6,794.7 2171.3,791.1 2172,971.1 2172.2,699.8 2172,792.8 2172.7,699.8 2173,971.1 2172.7,805.3 2173.4,971.1 2173.7,699.8 2173.4,803.1 2174.2,771.1 2174.9,748.5 2175.6,741.6 2176.3,971.1 2176.6,699.8 2176.3,758.9 2177,971.1 2177.3,699.8 2177,752.2 2177.8,751.9 2178.5,718.5 2179.2,742.9 2179.9,807.3 2180.6,745 2181.4,699.8 2182.1,715.7 2182.8,776 2183.5,699.8 2184.2,773.9 2185,730.6 2185.7,760.2 2186.4,699.8 2187.1,725.5 2187.8,822.8 2188.6,785.4 2189.3,810.2 2190,749.5 2190.7,699.8 2191,971.1 2190.7,850.2 2191.4,719.5 2192.2,705.6 2192.9,971.1 2193.1,699.8 2192.9,708.9 2193.6,751.4 2194.3,971.1 2194.6,699.8 2194.3,733.6 2195,801.4 2195.7,843.7 2196.4,820 2197.2,971.1 2197.4,699.8 2197.2,748.1 2197.9,773.1 2198.6,761.2 2199.3,808.5 2200,850.4 2200.8,860.2 2201.5,937.4 2202.2,914.2 2202.9,800 2203.6,699.8 2204.4,764.6 2205.1,840.9 2205.8,848 2206.5,776.7 2207,840.9 2207.7,894.9 2208.4,971.1 2208.7,699.8 2208.4,820.3 2209.2,788.8 2209.9,771 2210.6,899.4 2211.3,925.7 2212,705.1 2212.8,699.8 2213,971.1 2212.8,878.8 2213.5,699.8 2213.7,971.1 2213.5,778.9 2214.2,971.1 2214.4,699.8 2214.2,791.8 2214.9,802.3 2215.6,790 2216.4,971.1 2216.6,699.8 2216.4,825.8 2217,848.9 2217.7,875.5 2218.4,846.8 2219.2,862.5 2219.9,849.8 2220.6,775 2221.3,823.2 2222,841.8 2222.8,848.5 2223.5,874.9 2224.2,866.8 2224.9,899 2225.6,841.1 2226.4,922.3 2227.1,885.4 2227.8,879.1 2228.5,865.4 2229.2,919.7 2230,971.1 2230.7,931.4 2231.4,881.9 2232.1,918.4 2232.8,951.2 2233.6,909.6 2234.3,965.1 2235,841.1 2235.7,855.6 2236.4,880.3 2237.2,971.1 2237.4,699.8 2237.2,843.5 2237.9,820.9 2238.6,864.8 2239.3,699.8 2239.6,971.1 2239.3,883.4 2240,908 2240.8,906.1 2241.5,971.1 2241.7,699.8 2241.5,943.7 2242.2,971.1 2242.9,924.2 2243.6,859.3 2244.4,699.8 2244.6,971.1 2244.4,850 2245.1,699.8 2245.3,971.1 2245.1,877.8 2245.8,699.8 2246,971.1 2245.8,866.7 2246.5,699.8 2246.8,971.1 2246.5,971.1 2247.2,909.9 2248,920.3 2248.7,955.9 2249.4,971.1 2250.1,971.1 2250.4,699.8 2250.1,922.9 2250.8,826.2 2251.6,969 2252.3,957.9 2253,906.7 2253.7,965.2 2254.4,971.1 2255.2,914.7 2255.9,886.3 2256.6,857.8 2257.3,861.5 2258,831.9 2258.8,910.6 2259.5,924.2 2260.2,821.9 2260.9,699.8 2261.2,971.1 2260.9,874.2 2261.6,850.9 2262.4,855.9 2263.1,863.1 2263.8,895 2264.5,824.2 2265.2,971.1 2265.5,699.8 2265.2,796.7 2266,971.1 2266.2,699.8 2266,825.2 2266.7,971.1 2266.9,699.8 2266.7,919.2 2267.4,956.8 2268.1,928.4 2268.8,854 2269.6,856.9 2270.3,959.5 2271,945 2271.7,946.8 2272.4,699.8 2272.7,971.1 2272.4,891.5 2273.2,699.8 2273.4,971.1 2273.2,909.9 2273.9,856.5 2274.6,930.8 2275.3,945.8 2276,941.9 2276.8,908.5 2277.5,934.8 2278.2,872.1 2278.9,889 2279.6,877 2280.4,914.7 2281.1,953.6 2281.8,946.8 2282.5,939 2283.2,699.8 2283.5,971.1 2283.2,824.7 2284,803 2284.7,866 2285.4,964 2286.1,919.4 2286.8,939 2287.6,971.1 2288.3,895.5 2289,874.1 2289.7,914.1 2290.4,911.9 2291.2,927.1 2291.9,699.8 2292.1,971.1 2291.9,945.1 2292.6,971.1 2292.8,699.8 2292.6,900.5 2293.3,808.4 2294,915.8 2294.8,870.6 2295.5,913 2296.2,867.5 2296.9,930.2 2297.6,925.5 2298.4,906.9 2299.1,891.4 2299.8,865.8 2300.5,829.5 2301.2,904.1 2302,859.1 2302.7,699.8 2302.9,971.1 2302.7,898.6 2303.4,939.5 2304.1,916.6 2304.8,971.1 2305,961.8 2305.7,851 2306.4,887.9 2307.2,868.6 2307.9,936.3 2308.6,891.2" fill="none" stroke="#0072BD" stroke-width="2.62" stroke-linejoin="round" stroke-linecap="butt"/>
<polyline clip-path="url(#cNAA)" points="91.6,1058.3 92.4,1059.5 93.2,1061.7 93.9,1062.3 94.7,1063.6 95.5,1065.3 96.2,1063.3 96.9,1063.1 97.7,1063.5 98.4,1061.7 99.1,1061.4 99.9,1059.2 100.7,1061.2 101.6,1063.1 102.5,1064.5 103.2,1066.7 103.9,1066.7 104.7,1071.5 105.4,1073.2 106.1,1075.2 106.8,1076.7 107.7,1075.3 108.6,1075.7 109.5,1077 110.3,1078.4 111.1,1079.4 111.8,1081.7 112.5,1082.8 113.3,1084.8 114,1085 114.7,1087.2 115.6,1088.1 116.5,1088.8 117.3,1088.9 118.2,1090.5 119.1,1095.5 120,1095.9 120.7,1095.4 121.4,1094.9 122.1,1091.7 122.9,1090.5 123.6,1089.7 124.3,1088.9 125.2,1090.6 126.1,1093.1 127,1094.2 127.8,1095.8 128.7,1096.3 129.6,1097.1 130.4,1099.4 131.2,1099.2 132,1101.5 132.8,1099.7 133.6,1101.2 134.3,1101.8 135.1,1100.1 135.9,1102.2 136.7,1104 137.4,1102.9 138.2,1101.5 139,1104.1 139.8,1105.1 140.5,1105.1 141.3,1107.3 142.1,1107.5 142.9,1106.7 143.7,1110 144.4,1109.9 145.2,1111.1 145.9,1111.9 146.7,1113 147.4,1112.3 148.2,1112.5 148.9,1111.5 149.7,1113.4 150.4,1114.1 151.2,1112.7 151.9,1112.9 152.7,1112 153.4,1112.3 154.2,1112.8 154.9,1113.4 155.8,1115.7 156.7,1112.9 157.5,1114.4 158.4,1116.9 159.2,1118.7 160,1121.6 160.7,1122.2 161.5,1121 162.3,1121.9 163.1,1126.6 163.9,1127 164.6,1128.1 165.4,1130.9 166.2,1132 166.9,1132.1 167.7,1131.1 168.4,1131.2 169.2,1131.4 169.9,1132.6 170.6,1130.9 171.4,1132.8 172.1,1134 172.9,1135.2 173.6,1134.2 174.4,1138.5 175.1,1139.4 175.9,1139.6 176.7,1142 177.4,1140.9 178.2,1144.2 179,1147.5 179.8,1146.4 180.6,1149.9 181.3,1153 182.1,1152.2 182.9,1155.4 183.6,1157.9 184.4,1157.5 185.1,1157.4 185.9,1158.7 186.6,1159.8 187.4,1160 188.1,1160.6 189,1161 189.9,1158.9 190.6,1158.9 191.4,1159.9 192.1,1162.2 192.9,1161.9 193.6,1161.6 194.4,1164.4 195.1,1164.1 195.9,1166.7 196.6,1165.6 197.4,1165.6 198.1,1167.9 198.9,1168.9 199.6,1169.8 200.4,1171.1 201.2,1173.9 202.1,1172.6 203,1176.4 203.9,1176.3 204.7,1172.8 205.6,1171.1 206.5,1170.5 207.4,1167.6 208.2,1169.7 209.1,1170.3 210,1170.6 210.9,1171.1 211.6,1172.2 212.4,1173.2 213.2,1174.6 214,1174.8 214.7,1176.2 215.5,1177.5 216.3,1177.9 217.1,1179.7 217.8,1179.8 218.7,1182.2 219.6,1185.5 220.5,1185.4 221.3,1186.8 222.2,1187.2 223.1,1188.2 224,1189.4 224.8,1190.3 225.7,1193.5 226.6,1194.3 227.5,1197.3 228.3,1199.1 229.1,1201.3 229.9,1196.6 230.7,1198.4 231.4,1200.1 232.2,1200.5 233,1200.5 233.8,1199.9 234.5,1201.3 235.3,1200.8 236.2,1198.9 237.1,1195.9 237.9,1196.9 238.8,1192.1 239.7,1192.5 240.6,1191.5 241.4,1192 242.3,1192.1 243.2,1194 244.1,1196.4 244.9,1195.6 245.8,1200.8 246.6,1200.3 247.3,1201.9 248.1,1199.5 248.8,1200.7 249.6,1201.9 250.3,1201.7 251.1,1200.8 251.8,1203.4 252.6,1200.9 253.3,1203.4 254.1,1204.4 254.8,1206.5 255.5,1208 256.3,1207.8 257.2,1204.4 258,1208.1 258.9,1204.9 259.8,1206 260.7,1205.5 261.5,1201.8 262.4,1202.3 263.3,1200.8 264.2,1205.6 265,1207.8 265.8,1208.4 266.5,1209.5 267.3,1210.9 268,1210.9 268.8,1211.4 269.5,1214 270.3,1213 271,1215.2 271.8,1214.7 272.5,1219.1 273.3,1215.8 274,1219 274.8,1218.7 275.5,1220 276.3,1221.3 277,1223.1 277.7,1223.8 278.4,1225.4 279.2,1224.2 279.9,1225.4 280.6,1228.9 281.4,1228.3 282.1,1229.4 282.8,1230.1 283.5,1234.2 284.3,1234 285,1234.3 285.8,1234.5 286.6,1231.2 287.4,1231.7 288.2,1229.8 288.9,1231.4 289.7,1231.7 290.5,1228.4 291.3,1228.8 292,1230.7 292.8,1230.4 293.5,1229.3 294.3,1227.6 295,1231.6 295.8,1230.2 296.5,1230.5 297.4,1230.7 298.2,1232.7 299.1,1233.6 300,1234 300.9,1234.8 301.7,1231.1 302.6,1232.6 303.5,1230.5 304.2,1232.2 305,1232.1 305.7,1230.3 306.5,1229.7 307.2,1231.6 308,1230.6 308.7,1230.5 309.6,1233.7 310.5,1238.2 311.4,1239.4 312.2,1242.8 313,1241.5 313.7,1244.8 314.5,1244.5 315.2,1248.6 316,1249.3 316.7,1249.6 317.5,1251.5 318.2,1251 319,1251.4 319.7,1250.1 320.5,1251 321.2,1248.9 322,1249.6 322.7,1248 323.6,1251.8 324.5,1254.1 325.3,1253.8 326.2,1256.7 327,1256.7 327.8,1252.7 328.5,1252.6 329.3,1250.7 330.1,1253.1 330.9,1249.6 331.7,1249.9 332.4,1248.8 333.2,1248 334,1248.9 334.8,1249.3 335.5,1251.2 336.3,1253.9 337.1,1252.9 337.9,1254.4 338.6,1255.9 339.4,1255.5 340.2,1256.7 341,1255.9 341.8,1257.3 342.5,1259.7 343.3,1257.3 344.1,1259 344.9,1261.3 345.6,1261.7 346.4,1261.4 347.2,1262 347.9,1263.3 348.6,1263 349.4,1262 350.1,1262 350.8,1263.5 351.6,1265.6 352.3,1264.4 353,1264.5 353.7,1265.1 354.5,1264.7 355.2,1266.7 355.9,1267.2 356.7,1266.9 357.4,1269.6 358.2,1267.6 358.9,1271.6 359.7,1271.5 360.4,1271.1 361.2,1274.2 362,1273.3 362.9,1270.4 363.8,1266.5 364.7,1267.2 365.4,1266.5 366.2,1267.9 367,1267.3 367.8,1268.9 368.6,1269 369.3,1269.1 370.1,1268.9 370.9,1270.2 371.7,1269 372.4,1270.7 373.2,1271.4 374,1269.6 374.8,1273.8 375.5,1275.3 376.3,1274.5 377.1,1275.3 377.9,1278.9 378.7,1277.7 379.5,1274.9 380.4,1276.5 381.3,1277.8 382.2,1274.2 382.9,1274.2 383.6,1277 384.4,1279.3 385.1,1278.1 385.9,1279.8 386.6,1281.2 387.4,1281.2 388.1,1280.7 388.9,1282.1 389.6,1283 390.4,1284.1 391.1,1283.7 391.9,1284 392.6,1284.7 393.4,1282.3 394.1,1281.8 394.9,1281.9 395.6,1279.8 396.4,1277.5 397.1,1276.3 397.9,1276 398.6,1279.9 399.4,1279.2 400.1,1279.7 400.9,1277.1 401.6,1281.6 402.4,1282.5 403.1,1283 403.9,1284.8 404.7,1283.4 405.5,1282.9 406.2,1283.5 407,1280.8 407.8,1284.1 408.6,1283.3 409.3,1282.2 410.1,1283 411,1283.5 411.9,1283.2 412.7,1278.8 413.6,1279.5 414.3,1278.7 415.1,1279.8 415.8,1279.7 416.5,1279 417.3,1278.4 418,1279.5 418.9,1272.2 419.7,1260.2 420.5,1262 421.3,1260.2 422,1260.7 422.8,1264.7 423.6,1264.6 424.3,1266.2 425.1,1265.7 425.8,1265.5 426.7,1267.1 427.6,1271 428.5,1271 429.3,1276 430.1,1275.6 430.8,1276.9 431.6,1278 432.3,1277.2 433.1,1278.3 433.8,1279.5 434.6,1279.5 435.4,1281 436.1,1282.5 436.9,1283.2 437.7,1283.8 438.5,1286.2 439.3,1286.5 440,1286.7 440.8,1288.1 441.6,1289.9 442.3,1290.6 443.1,1291.1 443.8,1292 444.6,1292.4 445.3,1293.3 446.1,1293.5 446.8,1292.9 447.6,1295.4 448.3,1296.7 449.1,1296.7 449.8,1296.6 450.6,1297.9 451.3,1297 452.1,1298.7 452.8,1297.6 453.6,1300.8 454.3,1300.7 455.1,1303.6 455.8,1302.6 456.6,1301.9 457.3,1304.7 458.1,1308.6 458.8,1307.5 459.6,1307.4 460.3,1309.1 461.1,1311.5 461.8,1312.4 462.6,1313 463.3,1313 464,1313 464.3,1040.9" fill="none" stroke="#0072BD" stroke-width="2.62" stroke-linejoin="round" stroke-linecap="butt"/>
<polyline clip-path="url(#cNAA)" points="466.2,1313 466.9,1313 467.7,1040.9 468.5,1313 469.3,1040.9 470.1,1313 470.9,1040.9 471.6,1313 472.5,1040.9 473.2,1041.6 473.9,1044.1 474.7,1043.2 475.4,1042.3 476.1,1043.7 476.8,1045.9 477.6,1045.1 478.3,1045.5 479,1042.3 479.8,1044.3 480.5,1046.1 481.2,1045.2 482,1045.1 482.7,1047.8 483.5,1047.4 484.2,1048.3 485,1046.7 485.7,1051.8 486.5,1050 487.2,1047.9 488,1048.8 488.7,1053.4 489.5,1048.8 490.2,1051.2 491,1051.8 491.7,1050.5 492.5,1051 493.2,1049.5 494,1052.3 494.7,1053.1 495.5,1054.9 496.2,1054.8 497,1054 497.7,1055.9 498.4,1055.9 499.2,1055.8 499.9,1056.1 500.7,1056.1 501.4,1058.1 502.2,1057.5 502.9,1055.9 503.7,1056.9 504.4,1058.2 505.2,1056 505.9,1058 506.7,1055.6 507.4,1059.2 508.2,1058.6 509,1061.4 509.8,1061.9 510.5,1061.5 511.3,1061.7 512.1,1060.3 512.9,1066.4 513.7,1064.8 514.4,1064.5 515.2,1066.7 516,1063.7 516.8,1065.3 517.5,1062.9 518.3,1067.7 519.1,1068.4 519.9,1064 520.6,1067.5 521.4,1068 522.2,1069.4 523,1065.7 523.8,1066 524.5,1067.7 525.3,1068.8 526.1,1067.9 526.9,1070.7 527.6,1071.5 528.4,1071.5 529.3,1073.1 530.2,1073.8 531,1073.2 531,1093.3 531.9,1074.1 532.7,1077.2 533.5,1077.2 534.2,1073.6 535,1075.5 535.8,1075.2 536.6,1075.7 537.3,1078 538.1,1078.7 538.9,1079.3 539.7,1080.4 540.5,1077.2 541.2,1078.1 542,1080.4 542.8,1080.4 543.6,1080.5 544.3,1081.3 545.1,1080.4 545.9,1081.9 546.7,1082.9 547.4,1082.2 548.2,1081.2 549,1080 549.8,1080.7 550.6,1076.2 551.3,1078.9 552.1,1080.5 552.9,1080.2 553.7,1078 554.4,1081.3 555.2,1081.6 556,1079.4 556.8,1081.7 557.5,1082 558.3,1083.7 559.1,1084.3 559.9,1083.7 560.6,1084.4 561.4,1083.7 562.1,1085.7 562.9,1086.6 563.6,1088.7 564.4,1088.7 565.1,1088.9 565.9,1087.5 566.6,1086.1 567.4,1087.6 568.1,1086.7 568.9,1085.8 569.6,1087.2 570.4,1087.2 571.1,1086.5 571.9,1087.8 572.7,1088.7 573.5,1087.3 574.2,1092.1 575,1087.8 575.8,1090.4 576.6,1088.9 577.4,1088.9 578.2,1089.1 579.1,1085.4 579.9,1082.6 580.6,1086.7 581.4,1089.6 582.1,1091.5 582.8,1095.7 583.6,1093.5 584.3,1094.2 585.1,1096.7 585.9,1096.3 586.7,1097 587.5,1096.6 588.2,1095.9 589,1097.4 589.8,1095.1 590.6,1099.3 591.3,1097.7 592.1,1096.1 592.9,1098.5 593.7,1101.9 594.4,1098.1 595.2,1098.7 596,1100.8 596.8,1099.1 597.6,1097.9 598.3,1099.4 599.2,1102.5 600.1,1104.7 601,1103.5 601.8,1101.5 602.7,1096.8 603.6,1095.9 604.4,1097.6 605.3,1096.1 606.2,1092 607.1,1090.7 607.8,1091.4 608.6,1090.5 609.3,1093.8 610.1,1090.5 610.8,1093.1 611.6,1091.4 612.3,1092.4 613.1,1091.4 613.9,1094 614.6,1095.3 615.4,1093.2 616.2,1092.2 617,1095 617.8,1093.7 618.5,1094.5 619.3,1094.2 620.2,1095.5 621.1,1093.5 621.9,1089.4 622.8,1088.9 623.7,1093.7 624.6,1090.7 625.4,1092.9 626.3,1092.4 627.2,1087.4 628,1084.5 628.9,1077.7 629.8,1076.7 630.7,1078.4 631.5,1076.4 632.4,1070.7 633.3,1071.5 634.2,1065.4 635,1064.5 635.9,1067 636.8,1075 637.5,1076.2 638.3,1072.7 639,1072.6 639.8,1071.4 640.5,1071 641.3,1068.6 642,1069.7 642.8,1069.2 643.6,1066.1 644.4,1067.8 645.1,1067.9 645.9,1067.6 646.7,1065.8 647.5,1064.1 648.2,1065.3 649,1064.5 649.8,1063.4 650.5,1066.6 651.3,1065 652,1063.3 652.8,1062.4 653.5,1061.8 654.3,1062.7 655.1,1062.4 656,1064.7 656.9,1067.1 657.8,1068 658.6,1071.5 659.5,1073.2 660.3,1074.7 661,1077.8 661.8,1073.5 662.5,1075.2 663.3,1080.5 664,1073 664.8,1076.7 665.5,1075.4 666.3,1076.2 667.1,1075.8 667.9,1075.8 668.6,1074.4 669.4,1075 670.2,1074.1 671,1074.9 671.7,1073.2 672.5,1070.6 673.3,1072.9 674.1,1074.9 674.9,1073.8 675.6,1074.3 676.4,1077.8 677.2,1076.2 678,1078.9 678.7,1078.4 679.6,1080.2 680.5,1079.8 681.4,1080.6 682.2,1080.2 683,1079.8 683.8,1077.4 684.6,1079.6 685.3,1080.2 686.1,1078.3 686.9,1078.9 687.7,1080.1 688.4,1077.1 689.2,1078.4 690.1,1080.4 691,1083.4 691.8,1080.1 692.7,1081.9 693.6,1079.6 694.5,1076.4 695.3,1076.7 696.2,1071.5 697.1,1077.2 698,1081.9 698.7,1085 699.5,1083.8 700.2,1086.4 701,1087.9 701.7,1086.4 702.5,1093.4 703.2,1092.4 704.1,1095.3 705,1092.1 705.8,1097.6 706.7,1097.7 707.5,1096.7 708.2,1096.9 709,1096 709.7,1092.1 710.4,1093.6 711.2,1095.7 711.9,1092.4 712.7,1090.5 713.4,1088.7 714.2,1087.1 714.9,1086.4 715.7,1088 716.4,1089.3 717.2,1085.4 718.1,1087.5 718.9,1088.5 719.8,1093.2 720.7,1090.7 721.4,1090.5 722.2,1091 722.9,1093.8 723.7,1094.6 724.4,1092.7 725.2,1093.2 725.9,1095.9 726.7,1095.4 727.4,1094.3 728.2,1090.7 728.9,1091.6 729.7,1090 730.4,1090.7 731.2,1088.9 732,1087.9 732.9,1087 733.8,1085.7 734.7,1085.4 735.4,1087.8 736.2,1089 737,1086.6 737.8,1089.2 738.6,1087.1 739.3,1089.1 740.1,1090.8 740.9,1092.7 741.7,1090.7 742.4,1090 743.2,1090.6 744,1091 744.8,1088.1 745.5,1090.7 746.3,1089.5 747.1,1091.3 747.9,1088.8 748.7,1090.7 749.4,1086.9 750.2,1090 751,1090 751.8,1088.2 752.5,1090.3 753.3,1087.9 754.1,1086.9 754.9,1088.4 755.6,1087.2 756.5,1084.1 757.4,1085.2 758.3,1085.8 759.1,1085.4 760,1089.9 760.9,1091.3 761.8,1095.1 762.6,1097.7 763.4,1095.8 764.2,1096.6 765,1098.2 765.7,1093.4 766.5,1097.8 767.3,1091.9 768.1,1092.3 768.9,1091.8 769.6,1090.7 770.4,1093.2 771.2,1090.1 772,1089.4 772.7,1094.8 773.5,1095.9 774.3,1096.4 775.1,1100.6 775.8,1097.2 776.6,1097.7 777.5,1098.5 778.4,1100.1 779.2,1099.6 780.1,1099.4 781,1100.1 781.9,1092.9 782.7,1092.2 783.6,1090.7 784.5,1090.1 785.4,1102.6 786.2,1106.4 787.1,1085.4 788,1081.3 788.9,1078.4 789.7,1082.2 790.6,1086.5 791.5,1085 792.4,1087.2 793.1,1086.6 793.9,1085.9 794.7,1085.2 795.5,1085.3 796.2,1087.3 797,1086.1 797.8,1085.9 798.6,1085.3 799.3,1085.4 800.1,1086.9 800.8,1086 801.6,1084.8 802.3,1086.1 803.1,1084.6 803.8,1082.7 804.6,1084.6 805.3,1087.1 806,1085.5 806.8,1083.2 807.5,1086.7 808.2,1085.5 809,1082.3 809.7,1087.8 810.4,1085.7 811.1,1086.7 811.9,1085.6 812.6,1085.1 813.3,1085.4 814.1,1083.1 814.8,1087.7 815.5,1086.4 816.2,1086.1 817,1087.5 817.7,1087.3 818.4,1088.6 819.2,1087.1 819.9,1088 820.6,1084.7 821.3,1087.9 822.1,1088.9 822.8,1090.7 823.6,1092.4 824.4,1090.1 825.2,1091.1 826,1094.5 826.7,1091.9 827.5,1094.3 828.3,1096.4 829.1,1094.2 830.2,1092.4 831,1093 831.7,1095.5 832.5,1093.9 833.2,1094.4 834,1094.9 834.7,1095.4 835.5,1095.9 836.9,1095.9 837.2,1045.2 837.6,1309.2 838.1,1225.3 838.8,1224.8 839.6,1227.5 840.3,1227.8 841,1229 841.8,1231.8 842.5,1230.6 843.4,1236.8 844.2,1232.8 845.1,1234.7 846,1237.5 846.7,1237.5 847.5,1233.5 848.2,1235.5 849,1234.6 849.7,1232 850.5,1232.6 851.2,1230.6 852,1228 852.7,1232.9 853.4,1228.9 854.1,1231 854.9,1231.7 855.6,1232.4 856.3,1235.2 857.1,1234.2 857.8,1233.7 858.5,1236 859.2,1238.4 860,1235.8 860.7,1236.1 861.4,1237.1 862.2,1239 862.9,1237.5 863.6,1234.8 864.3,1242.3 865.1,1242 865.8,1234.4 866.5,1238.3 867.2,1239.5 868,1240.8 868.7,1239.3 869.5,1240 870.3,1237.6 871,1235.5 871.8,1237.2 872.6,1238.3 873.4,1233.7 874.1,1233.3 874.9,1234.6 875.7,1234 876.4,1230.8 877.2,1234.4 877.9,1234.5 878.6,1236.7 879.3,1234.9 880.1,1235 880.8,1236.4 881.5,1237.5 882.3,1236.7 883,1238.4 883.7,1240.3 884.4,1239.3 885.2,1241.9 886,1243.3 886.8,1239 887.5,1240.1 888.3,1236.5 889.1,1245.2 889.9,1240.6 890.7,1242.3 891.4,1242.8 892.2,1244.5 892.9,1241.7 893.7,1245.9 894.4,1245.7 895.2,1243.1 895.9,1247.8 896.7,1248 897.6,1253.8 898.4,1251.5 899.3,1258.5 900,1258.9 900.8,1256.6 901.5,1255.9 902.2,1254.7 902.9,1255.2 903.7,1251.5 904.4,1250.9 905.2,1252.7 905.9,1250 906.7,1251.9 907.4,1248.7 908.2,1249.8 908.9,1249.8 909.3,1237.5 910.7,1251.5 911.4,1255.1 912.2,1252.9 912.9,1252 913.7,1250.4 914.4,1251.3 915.2,1253.4 915.9,1253.3 916.8,1252.4 917.7,1248.8 918.5,1246.4 919.4,1242.8 920.3,1249.7 921.2,1256.8 922,1255.8 922.9,1249 923.8,1245.2 924.7,1242.8 925.4,1243.5 926.1,1240.9 926.9,1239.3 927.6,1237.7 928.4,1237.3 929.1,1238 929.9,1235.8 930.6,1237.1 931.4,1234.7 932.1,1238.4 932.8,1238.5 933.5,1236.8 934.3,1240.8 935,1239.3 935.7,1239.8 936.5,1242.6 937.2,1244.1 937.9,1240.9 938.6,1242.8 939.4,1243.9 940.1,1241.7 940.8,1248.1 941.6,1243 942.3,1246.5 943,1243.3 943.7,1246.4 944.5,1249.3 945.2,1240.6 945.9,1244.9 946.6,1246.9 947.4,1246.3 948.2,1245.7 948.9,1244.2 949.7,1249.2 950.5,1244.9 951.3,1241.2 952,1245.6 952.8,1240.3 953.6,1245.4 954.4,1242.8 955.2,1243.9 956.1,1247.4 957,1251.7 957.9,1251.5 958.6,1251.9 959.4,1249.3 960.2,1248.9 961,1254.6 961.8,1253.9 962.5,1251.1 963.3,1254.5 964.1,1254 964.9,1253.3 965.6,1254.9 966.4,1249.8 967.2,1253.9 968,1256.5 968.7,1256.6 969.5,1257.3 970.3,1251.3 971.1,1256.7 971.9,1256.8 972.6,1257.9 973.4,1262 974.2,1255.5 975,1256.9 975.7,1257.8 976.5,1259.6 977.3,1257.3 978.1,1260.5 978.8,1258.5 979.7,1259.6 980.6,1264.3 981.5,1265.4 982.3,1269 983.2,1273.2 984.1,1275.6 985,1277.8 985.8,1284.7 986.6,1287.6 987.4,1286.9 988.2,1286 988.9,1288.2 989.7,1290.5 990.5,1287.6 991.3,1290 992.1,1292 992.8,1291.7 993.6,1292.9 994.4,1291.5 995.2,1288.3 995.9,1294.9 996.7,1293.3 997.5,1292.9 998.3,1292.6 999,1293.8 999.8,1293.5 1000.7,1294 1001.6,1294.2 1002.4,1296 1003.3,1298.7 1004.2,1301.2 1005.1,1305.9 1005.9,1309.4 1006.8,1313 1008.2,1313 1008.6,1040.9 1009.3,1313 1010,1040.9 1010.7,1313 1011.4,1040.9 1012.1,1313 1012.8,1040.9 1013.5,1313 1014.2,1040.9 1014.9,1313 1015.6,1040.9 1016.3,1313 1016.6,1040.9 1017.3,1048.7 1018,1049.3 1018.8,1049.9 1019.5,1050.5 1020.2,1051.1 1020.9,1051.6 1021.7,1052.2 1022.6,1313 1023.4,1040.9 1024.3,1313 1025.2,1040.9 1026,1047 1026.9,1049.6 1027.8,1052.2 1028.7,1056.7 1029.5,1059.2 1030.3,1061.9 1031,1067.2 1031.8,1069.7 1032.5,1074.5 1033.3,1079.1 1034,1081.9 1034.8,1085.4 1035.7,1081.4 1036.5,1078.5 1037.4,1075 1038.3,1078 1039.2,1079.4 1040,1083.7 1040.8,1085.5 1041.5,1088.3 1042.3,1090.1 1043,1092.8 1043.8,1095.5 1044.5,1097.8 1045.3,1099.4 1046.1,1100.9 1046.8,1101.5 1047.6,1101.5 1048.4,1102.5 1049.2,1103.1 1049.9,1103.8 1050.7,1104.7 1051.5,1104.3 1052.3,1106.4 1053.1,1109.1 1054,1112.2 1054.9,1115.2 1055.8,1112.1 1056.6,1110.5 1057.5,1108.2 1058.4,1109 1059.3,1108.9 1060.1,1111.1 1061,1109.9 1061.9,1104.8 1062.8,1103.6 1063.6,1099.3 1064.5,1097.7 1065.3,1099 1066,1100.8 1066.8,1097.2 1067.5,1099.8 1068.3,1100.6 1069,1100.4 1069.8,1101.2 1070.6,1102.5 1071.5,1101.1 1072.4,1104.5 1073.3,1104.7 1074,1106.2 1074.8,1107.2 1075.5,1108 1076.2,1110.2 1077,1110.5 1077.7,1112.3 1078.5,1113.4 1079.4,1118.7 1080.2,1123 1081.1,1130.4 1082,1136.1 1082.7,1137.6 1083.5,1139.2 1084.2,1139.2 1085,1141.1 1085.7,1142.9 1086.5,1143.8 1087.2,1144.9 1088,1146.7 1088.8,1148 1089.6,1146.5 1090.3,1146.5 1091.1,1149.5 1091.9,1150.8 1092.7,1151.1 1093.5,1151.8 1094.2,1151.9 1095,1152.3 1095.7,1153.1 1096.4,1155.2 1097.1,1154.6 1097.9,1154.8 1098.6,1157.1 1099.5,1161 1100.3,1168.4 1101.2,1171.1 1102,1173.4 1102.8,1172.1 1103.6,1172.9 1104.3,1174.4 1105.1,1174.4 1105.9,1176.8 1106.7,1176.5 1107.4,1176.5 1108.2,1178.1 1109.1,1179.6 1110,1178.5 1110.8,1179.6 1111.7,1179.9 1112.6,1176.3 1113.5,1172.9 1114.3,1177 1115.2,1181.6 1116.1,1179.7 1117,1176.7 1117.8,1173.6 1118.7,1172.9 1119.5,1172.8 1120.3,1175.3 1121,1177.5 1121.8,1179.8 1122.6,1181.6 1123.4,1183.8 1124.1,1185.2 1124.9,1186.2 1125.7,1188.6 1126.5,1190 1127.3,1190.8 1128,1194.3 1128.8,1196.8 1129.6,1198.7 1130.4,1200.2 1131.1,1202.1 1131.9,1204.9 1132.7,1206.1 1133.6,1203.9 1134.4,1202.3 1135.3,1200 1136.2,1197.3 1137,1198.5 1137.8,1200.4 1138.6,1199.9 1139.4,1201 1140.2,1201.7 1141,1202.7 1141.8,1204.3" fill="none" stroke="#0072BD" stroke-width="2.62" stroke-linejoin="round" stroke-linecap="butt"/>
<g font-family="DejaVu Sans, sans-serif" font-size="42" fill="#262626" letter-spacing="-0.5"><text x="91.5" y="338.2" text-anchor="middle">00:00</text><text x="354" y="338.2" text-anchor="middle">06:00</text><text x="616.5" y="338.2" text-anchor="middle">12:00</text><text x="878.9" y="338.2" text-anchor="middle">18:00</text><text x="1141.4" y="338.2" text-anchor="middle">00:00</text><text x="73.8" y="235" text-anchor="end">-100</text><text x="72" y="158.8" text-anchor="end">0</text><text x="71" y="83.6" text-anchor="end">100</text><text x="1258.2" y="338.2" text-anchor="middle">00:00</text><text x="1520.8" y="338.2" text-anchor="middle">06:00</text><text x="1783.3" y="338.2" text-anchor="middle">12:00</text><text x="2045.9" y="338.2" text-anchor="middle">18:00</text><text x="2308.5" y="338.2" text-anchor="middle">00:00</text><text x="1240.5" y="235" text-anchor="end">-100</text><text x="1238.7" y="158.8" text-anchor="end">0</text><text x="1237.7" y="83.6" text-anchor="end">100</text><text x="91.5" y="688.4" text-anchor="middle">00:00</text><text x="354" y="688.4" text-anchor="middle">06:00</text><text x="616.5" y="688.4" text-anchor="middle">12:00</text><text x="878.9" y="688.4" text-anchor="middle">18:00</text><text x="1141.4" y="688.4" text-anchor="middle">00:00</text><text x="73.8" y="585.1" text-anchor="end">-100</text><text x="72" y="508.6" text-anchor="end">0</text><text x="71" y="433.3" text-anchor="end">100</text><text x="1258.2" y="688.4" text-anchor="middle">00:00</text><text x="1520.8" y="688.4" text-anchor="middle">06:00</text><text x="1783.3" y="688.4" text-anchor="middle">12:00</text><text x="2045.9" y="688.4" text-anchor="middle">18:00</text><text x="2308.5" y="688.4" text-anchor="middle">00:00</text><text x="1240.5" y="585.1" text-anchor="end">-100</text><text x="1238.7" y="508.6" text-anchor="end">0</text><text x="1237.7" y="433.3" text-anchor="end">100</text><text x="91.5" y="1029.5" text-anchor="middle">00:00</text><text x="354" y="1029.5" text-anchor="middle">06:00</text><text x="616.5" y="1029.5" text-anchor="middle">12:00</text><text x="878.9" y="1029.5" text-anchor="middle">18:00</text><text x="1141.4" y="1029.5" text-anchor="middle">00:00</text><text x="73.8" y="926.5" text-anchor="end">-100</text><text x="72" y="850.4" text-anchor="end">0</text><text x="71" y="775.3" text-anchor="end">100</text><text x="1258.2" y="1029.5" text-anchor="middle">00:00</text><text x="1520.8" y="1029.5" text-anchor="middle">06:00</text><text x="1783.3" y="1029.5" text-anchor="middle">12:00</text><text x="2045.9" y="1029.5" text-anchor="middle">18:00</text><text x="2308.5" y="1029.5" text-anchor="middle">00:00</text><text x="1240.5" y="926.5" text-anchor="end">-100</text><text x="1238.7" y="850.4" text-anchor="end">0</text><text x="1237.7" y="775.3" text-anchor="end">100</text><text x="91.5" y="1371.4" text-anchor="middle">00:00</text><text x="354" y="1371.4" text-anchor="middle">06:00</text><text x="616.5" y="1371.4" text-anchor="middle">12:00</text><text x="878.9" y="1371.4" text-anchor="middle">18:00</text><text x="1141.4" y="1371.4" text-anchor="middle">00:00</text><text x="73.8" y="1268.2" text-anchor="end">-100</text><text x="72" y="1191.9" text-anchor="end">0</text><text x="71" y="1116.6" text-anchor="end">100</text></g>
<g font-family="DejaVu Sans, sans-serif" font-size="58" fill="#000" letter-spacing="0.2"><text x="143.9" y="237.9">NPM Phase: 19-Dec-2025</text><text x="1311.2" y="237.8">NRK Phase: 19-Dec-2025</text><text x="144.1" y="632.9">NLK Phase: 19-Dec-2025</text><text x="1311.3" y="632.9">DHO Phase: 19-Dec-2025</text><text x="144.1" y="974.8">NDK Phase: 19-Dec-2025</text><text x="1311.1" y="974.6">JXN Phase: 19-Dec-2025</text><text x="144.1" y="1315.9">NAA Phase: 19-Dec-2025</text></g>
<text x="1245.9" y="1312.8" font-family="DejaVu Sans, sans-serif" font-size="66.67" fill="#FF0000">Fairbanks WWLLN+AARDDVARK</text>
</svg>
</body></html>
